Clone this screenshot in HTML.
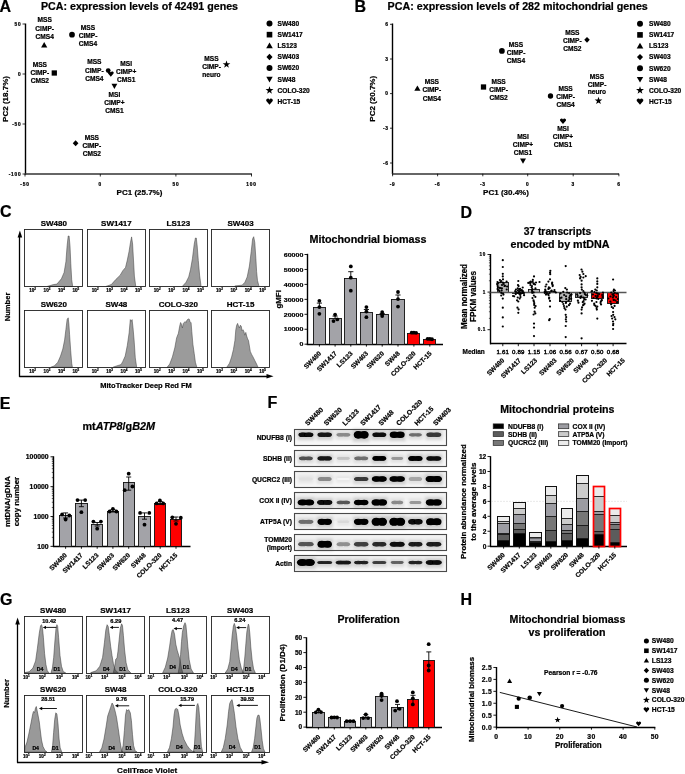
<!DOCTYPE html>
<html><head><meta charset="utf-8"><style>
html,body{margin:0;padding:0;background:#fff;width:685px;height:774px;overflow:hidden}
svg{display:block;will-change:transform}
text{font-family:"Liberation Sans", sans-serif;stroke:#000;stroke-width:0.22px}
</style></head><body>
<svg width="685" height="774" viewBox="0 0 685 774">
<rect x="0" y="0" width="685" height="774" fill="#fff"/>
<text x="-0.60" y="12.00" font-size="16" text-anchor="start" font-weight="bold" fill="#000"  style="">A</text>
<text x="41.00" y="10.04" font-size="10.4" text-anchor="start" font-weight="bold" fill="#000" textLength="197" lengthAdjust="spacingAndGlyphs" style="">PCA: expression levels of 42491 genes</text>
<line x1="25.50" y1="23.50" x2="25.50" y2="174.50" stroke="#000" stroke-width="1.4" />
<line x1="24.80" y1="174.00" x2="252.00" y2="174.00" stroke="#333" stroke-width="1.7" />
<line x1="22.50" y1="24.00" x2="25.00" y2="24.00" stroke="#000" stroke-width="0.8" />
<text x="21.50" y="25.73" font-size="4.8" text-anchor="end" font-weight="bold" fill="#000" letter-spacing="0.8" style="">50</text>
<line x1="22.50" y1="74.00" x2="25.00" y2="74.00" stroke="#000" stroke-width="0.8" />
<text x="21.50" y="75.73" font-size="4.8" text-anchor="end" font-weight="bold" fill="#000" letter-spacing="0.8" style="">0</text>
<line x1="22.50" y1="124.00" x2="25.00" y2="124.00" stroke="#000" stroke-width="0.8" />
<text x="21.50" y="125.73" font-size="4.8" text-anchor="end" font-weight="bold" fill="#000" letter-spacing="0.8" style="">-50</text>
<line x1="22.50" y1="174.00" x2="25.00" y2="174.00" stroke="#000" stroke-width="0.8" />
<text x="21.50" y="175.73" font-size="4.8" text-anchor="end" font-weight="bold" fill="#000" letter-spacing="0.8" style="">-100</text>
<line x1="25.00" y1="174.00" x2="25.00" y2="176.50" stroke="#000" stroke-width="0.8" />
<text x="25.00" y="185.73" font-size="4.8" text-anchor="middle" font-weight="bold" fill="#000" letter-spacing="0.8" style="">-50</text>
<line x1="100.30" y1="174.00" x2="100.30" y2="176.50" stroke="#000" stroke-width="0.8" />
<text x="100.30" y="185.73" font-size="4.8" text-anchor="middle" font-weight="bold" fill="#000" letter-spacing="0.8" style="">0</text>
<line x1="175.90" y1="174.00" x2="175.90" y2="176.50" stroke="#000" stroke-width="0.8" />
<text x="175.90" y="185.73" font-size="4.8" text-anchor="middle" font-weight="bold" fill="#000" letter-spacing="0.8" style="">50</text>
<line x1="251.50" y1="174.00" x2="251.50" y2="176.50" stroke="#000" stroke-width="0.8" />
<text x="251.50" y="185.73" font-size="4.8" text-anchor="middle" font-weight="bold" fill="#000" letter-spacing="0.8" style="">100</text>
<text x="139.50" y="195.38" font-size="8" text-anchor="middle" font-weight="bold" fill="#000"  style="">PC1 (25.7%)</text>
<text x="0" y="0" font-size="8" font-weight="bold" text-anchor="middle" transform="translate(7.5 99) rotate(-90)">PC2 (18.7%)</text>
<polygon points="44.20,42.10 47.30,47.53 41.10,47.53" fill="#000"/>
<text x="44.70" y="22.28" font-size="6.6" text-anchor="middle" font-weight="bold" fill="#000"  style="">MSS</text>
<text x="44.70" y="30.68" font-size="6.6" text-anchor="middle" font-weight="bold" fill="#000"  style="">CIMP-</text>
<text x="44.70" y="39.08" font-size="6.6" text-anchor="middle" font-weight="bold" fill="#000"  style="">CMS4</text>
<circle cx="72.00" cy="34.70" r="2.85" fill="#000" />
<text x="88.00" y="29.68" font-size="6.6" text-anchor="middle" font-weight="bold" fill="#000"  style="">MSS</text>
<text x="88.00" y="37.88" font-size="6.6" text-anchor="middle" font-weight="bold" fill="#000"  style="">CIMP-</text>
<text x="88.00" y="46.38" font-size="6.6" text-anchor="middle" font-weight="bold" fill="#000"  style="">CMS4</text>
<rect x="51.66" y="70.36" width="5.27" height="5.27" fill="#000" stroke="none" stroke-width="1" />
<text x="39.80" y="67.28" font-size="6.6" text-anchor="middle" font-weight="bold" fill="#000"  style="">MSS</text>
<text x="39.80" y="75.38" font-size="6.6" text-anchor="middle" font-weight="bold" fill="#000"  style="">CIMP-</text>
<text x="39.80" y="83.18" font-size="6.6" text-anchor="middle" font-weight="bold" fill="#000"  style="">CMS2</text>
<circle cx="108.20" cy="70.60" r="2.38" fill="#000" />
<path d="M110.80,76.75 L108.05,73.59 A1.43,1.43 0 0 1 110.80,72.35 A1.43,1.43 0 0 1 113.55,73.59 Z" fill="#000"/>
<text x="94.30" y="63.88" font-size="6.6" text-anchor="middle" font-weight="bold" fill="#000"  style="">MSS</text>
<text x="94.30" y="72.58" font-size="6.6" text-anchor="middle" font-weight="bold" fill="#000"  style="">CIMP-</text>
<text x="94.30" y="80.78" font-size="6.6" text-anchor="middle" font-weight="bold" fill="#000"  style="">CMS4</text>
<text x="126.20" y="66.18" font-size="6.6" text-anchor="middle" font-weight="bold" fill="#000"  style="">MSI</text>
<text x="126.20" y="74.38" font-size="6.6" text-anchor="middle" font-weight="bold" fill="#000"  style="">CIMP+</text>
<text x="126.20" y="82.18" font-size="6.6" text-anchor="middle" font-weight="bold" fill="#000"  style="">CMS1</text>
<polygon points="114.40,88.90 117.30,83.83 111.50,83.83" fill="#000"/>
<text x="114.40" y="97.18" font-size="6.6" text-anchor="middle" font-weight="bold" fill="#000"  style="">MSI</text>
<text x="114.40" y="105.18" font-size="6.6" text-anchor="middle" font-weight="bold" fill="#000"  style="">CIMP+</text>
<text x="114.40" y="113.18" font-size="6.6" text-anchor="middle" font-weight="bold" fill="#000"  style="">CMS1</text>
<polygon points="75.60,140.30 78.45,143.30 75.60,146.30 72.75,143.30" fill="#000"/>
<text x="91.80" y="140.18" font-size="6.6" text-anchor="middle" font-weight="bold" fill="#000"  style="">MSS</text>
<text x="91.80" y="147.88" font-size="6.6" text-anchor="middle" font-weight="bold" fill="#000"  style="">CIMP-</text>
<text x="91.80" y="155.58" font-size="6.6" text-anchor="middle" font-weight="bold" fill="#000"  style="">CMS2</text>
<polygon points="226.50,60.48 227.43,63.23 230.33,63.26 228.00,64.99 228.87,67.76 226.50,66.08 224.13,67.76 225.00,64.99 222.67,63.26 225.57,63.23" fill="#000"/>
<text x="211.50" y="60.88" font-size="6.6" text-anchor="middle" font-weight="bold" fill="#000"  style="">MSS</text>
<text x="211.50" y="69.18" font-size="6.6" text-anchor="middle" font-weight="bold" fill="#000"  style="">CIMP-</text>
<text x="211.50" y="77.28" font-size="6.6" text-anchor="middle" font-weight="bold" fill="#000"  style="">neuro</text>
<circle cx="269.50" cy="23.50" r="2.99" fill="#000" />
<text x="277.50" y="25.88" font-size="6.6" text-anchor="start" font-weight="bold" fill="#000"  style="">SW480</text>
<rect x="266.69" y="31.84" width="5.61" height="5.61" fill="#000" stroke="none" stroke-width="1" />
<text x="277.50" y="37.03" font-size="6.6" text-anchor="start" font-weight="bold" fill="#000"  style="">SW1417</text>
<polygon points="269.50,42.50 272.80,48.27 266.20,48.27" fill="#000"/>
<text x="277.50" y="48.18" font-size="6.6" text-anchor="start" font-weight="bold" fill="#000"  style="">LS123</text>
<polygon points="269.50,53.75 272.54,56.95 269.50,60.15 266.46,56.95" fill="#000"/>
<text x="277.50" y="59.33" font-size="6.6" text-anchor="start" font-weight="bold" fill="#000"  style="">SW403</text>
<circle cx="269.50" cy="68.10" r="2.99" fill="#000" />
<text x="277.50" y="70.48" font-size="6.6" text-anchor="start" font-weight="bold" fill="#000"  style="">SW620</text>
<polygon points="269.50,82.45 272.70,76.85 266.30,76.85" fill="#000"/>
<text x="277.50" y="81.63" font-size="6.6" text-anchor="start" font-weight="bold" fill="#000"  style="">SW48</text>
<polygon points="269.50,86.26 270.45,89.09 273.44,89.12 271.04,90.90 271.93,93.75 269.50,92.02 267.07,93.75 267.96,90.90 265.56,89.12 268.55,89.09" fill="#000"/>
<text x="277.50" y="92.78" font-size="6.6" text-anchor="start" font-weight="bold" fill="#000"  style="">COLO-320</text>
<path d="M269.50,104.75 L266.30,101.07 A1.66,1.66 0 0 1 269.50,99.63 A1.66,1.66 0 0 1 272.70,101.07 Z" fill="#000"/>
<text x="277.50" y="103.93" font-size="6.6" text-anchor="start" font-weight="bold" fill="#000"  style="">HCT-15</text>
<text x="354.60" y="11.70" font-size="16" text-anchor="start" font-weight="bold" fill="#000"  style="">B</text>
<text x="387.60" y="10.04" font-size="10.4" text-anchor="start" font-weight="bold" fill="#000" textLength="260.2" lengthAdjust="spacingAndGlyphs" style="">PCA: expression levels of 282 mitochondrial genes</text>
<line x1="392.50" y1="23.50" x2="392.50" y2="174.00" stroke="#000" stroke-width="1.4" />
<line x1="392.00" y1="174.00" x2="619.00" y2="174.00" stroke="#333" stroke-width="1.7" />
<line x1="390.00" y1="24.30" x2="392.60" y2="24.30" stroke="#000" stroke-width="0.8" />
<text x="388.50" y="26.03" font-size="4.8" text-anchor="end" font-weight="bold" fill="#000" letter-spacing="0.6" style="">6</text>
<line x1="390.00" y1="59.00" x2="392.60" y2="59.00" stroke="#000" stroke-width="0.8" />
<text x="388.50" y="60.73" font-size="4.8" text-anchor="end" font-weight="bold" fill="#000" letter-spacing="0.6" style="">3</text>
<line x1="390.00" y1="93.60" x2="392.60" y2="93.60" stroke="#000" stroke-width="0.8" />
<text x="388.50" y="95.33" font-size="4.8" text-anchor="end" font-weight="bold" fill="#000" letter-spacing="0.6" style="">0</text>
<line x1="390.00" y1="128.20" x2="392.60" y2="128.20" stroke="#000" stroke-width="0.8" />
<text x="388.50" y="129.93" font-size="4.8" text-anchor="end" font-weight="bold" fill="#000" letter-spacing="0.6" style="">-3</text>
<line x1="390.00" y1="163.00" x2="392.60" y2="163.00" stroke="#000" stroke-width="0.8" />
<text x="388.50" y="164.73" font-size="4.8" text-anchor="end" font-weight="bold" fill="#000" letter-spacing="0.6" style="">-6</text>
<line x1="392.60" y1="173.70" x2="392.60" y2="176.30" stroke="#000" stroke-width="0.8" />
<text x="392.60" y="185.93" font-size="4.8" text-anchor="middle" font-weight="bold" fill="#000" letter-spacing="0.6" style="">-9</text>
<line x1="437.60" y1="173.70" x2="437.60" y2="176.30" stroke="#000" stroke-width="0.8" />
<text x="437.60" y="185.93" font-size="4.8" text-anchor="middle" font-weight="bold" fill="#000" letter-spacing="0.6" style="">-6</text>
<line x1="482.80" y1="173.70" x2="482.80" y2="176.30" stroke="#000" stroke-width="0.8" />
<text x="482.80" y="185.93" font-size="4.8" text-anchor="middle" font-weight="bold" fill="#000" letter-spacing="0.6" style="">-3</text>
<line x1="527.70" y1="173.70" x2="527.70" y2="176.30" stroke="#000" stroke-width="0.8" />
<text x="527.70" y="185.93" font-size="4.8" text-anchor="middle" font-weight="bold" fill="#000" letter-spacing="0.6" style="">0</text>
<line x1="573.20" y1="173.70" x2="573.20" y2="176.30" stroke="#000" stroke-width="0.8" />
<text x="573.20" y="185.93" font-size="4.8" text-anchor="middle" font-weight="bold" fill="#000" letter-spacing="0.6" style="">3</text>
<line x1="618.90" y1="173.70" x2="618.90" y2="176.30" stroke="#000" stroke-width="0.8" />
<text x="618.90" y="185.93" font-size="4.8" text-anchor="middle" font-weight="bold" fill="#000" letter-spacing="0.6" style="">6</text>
<text x="506.00" y="195.18" font-size="8" text-anchor="middle" font-weight="bold" fill="#000"  style="">PC1 (30.4%)</text>
<text x="0" y="0" font-size="8" font-weight="bold" text-anchor="middle" transform="translate(374.5 98.8) rotate(-90)">PC2 (20.7%)</text>
<polygon points="417.40,85.40 420.50,90.83 414.30,90.83" fill="#000"/>
<text x="431.80" y="83.78" font-size="6.6" text-anchor="middle" font-weight="bold" fill="#000"  style="">MSS</text>
<text x="431.80" y="92.38" font-size="6.6" text-anchor="middle" font-weight="bold" fill="#000"  style="">CIMP-</text>
<text x="431.80" y="100.58" font-size="6.6" text-anchor="middle" font-weight="bold" fill="#000"  style="">CMS4</text>
<circle cx="501.90" cy="50.90" r="2.85" fill="#000" />
<text x="516.00" y="46.78" font-size="6.6" text-anchor="middle" font-weight="bold" fill="#000"  style="">MSS</text>
<text x="516.00" y="54.98" font-size="6.6" text-anchor="middle" font-weight="bold" fill="#000"  style="">CIMP-</text>
<text x="516.00" y="62.78" font-size="6.6" text-anchor="middle" font-weight="bold" fill="#000"  style="">CMS4</text>
<rect x="480.87" y="84.36" width="5.27" height="5.27" fill="#000" stroke="none" stroke-width="1" />
<text x="498.60" y="83.58" font-size="6.6" text-anchor="middle" font-weight="bold" fill="#000"  style="">MSS</text>
<text x="498.60" y="91.68" font-size="6.6" text-anchor="middle" font-weight="bold" fill="#000"  style="">CIMP-</text>
<text x="498.60" y="99.58" font-size="6.6" text-anchor="middle" font-weight="bold" fill="#000"  style="">CMS2</text>
<polygon points="587.00,36.90 589.75,39.80 587.00,42.70 584.25,39.80" fill="#000"/>
<text x="572.30" y="34.68" font-size="6.6" text-anchor="middle" font-weight="bold" fill="#000"  style="">MSS</text>
<text x="572.30" y="43.18" font-size="6.6" text-anchor="middle" font-weight="bold" fill="#000"  style="">CIMP-</text>
<text x="572.30" y="51.18" font-size="6.6" text-anchor="middle" font-weight="bold" fill="#000"  style="">CMS2</text>
<circle cx="550.50" cy="96.00" r="2.66" fill="#000" />
<text x="565.60" y="91.18" font-size="6.6" text-anchor="middle" font-weight="bold" fill="#000"  style="">MSS</text>
<text x="565.60" y="99.18" font-size="6.6" text-anchor="middle" font-weight="bold" fill="#000"  style="">CIMP-</text>
<text x="565.60" y="107.28" font-size="6.6" text-anchor="middle" font-weight="bold" fill="#000"  style="">CMS4</text>
<path d="M563.00,124.10 L560.10,120.77 A1.51,1.51 0 0 1 563.00,119.46 A1.51,1.51 0 0 1 565.90,120.77 Z" fill="#000"/>
<text x="563.00" y="130.78" font-size="6.6" text-anchor="middle" font-weight="bold" fill="#000"  style="">MSI</text>
<text x="563.00" y="138.78" font-size="6.6" text-anchor="middle" font-weight="bold" fill="#000"  style="">CIMP+</text>
<text x="563.00" y="146.78" font-size="6.6" text-anchor="middle" font-weight="bold" fill="#000"  style="">CMS1</text>
<polygon points="523.00,163.70 526.00,158.45 520.00,158.45" fill="#000"/>
<text x="523.00" y="138.68" font-size="6.6" text-anchor="middle" font-weight="bold" fill="#000"  style="">MSI</text>
<text x="523.00" y="147.38" font-size="6.6" text-anchor="middle" font-weight="bold" fill="#000"  style="">CIMP+</text>
<text x="523.00" y="155.38" font-size="6.6" text-anchor="middle" font-weight="bold" fill="#000"  style="">CMS1</text>
<polygon points="598.50,96.77 599.43,99.53 602.33,99.56 600.00,101.29 600.87,104.06 598.50,102.38 596.13,104.06 597.00,101.29 594.67,99.56 597.57,99.53" fill="#000"/>
<text x="597.00" y="78.58" font-size="6.6" text-anchor="middle" font-weight="bold" fill="#000"  style="">MSS</text>
<text x="597.00" y="86.58" font-size="6.6" text-anchor="middle" font-weight="bold" fill="#000"  style="">CIMP-</text>
<text x="597.00" y="94.38" font-size="6.6" text-anchor="middle" font-weight="bold" fill="#000"  style="">neuro</text>
<circle cx="640.00" cy="23.80" r="2.99" fill="#000" />
<text x="649.00" y="26.18" font-size="6.6" text-anchor="start" font-weight="bold" fill="#000"  style="">SW480</text>
<rect x="637.20" y="32.09" width="5.61" height="5.61" fill="#000" stroke="none" stroke-width="1" />
<text x="649.00" y="37.28" font-size="6.6" text-anchor="start" font-weight="bold" fill="#000"  style="">SW1417</text>
<polygon points="640.00,42.70 643.30,48.48 636.70,48.48" fill="#000"/>
<text x="649.00" y="48.38" font-size="6.6" text-anchor="start" font-weight="bold" fill="#000"  style="">LS123</text>
<polygon points="640.00,53.90 643.04,57.10 640.00,60.30 636.96,57.10" fill="#000"/>
<text x="649.00" y="59.48" font-size="6.6" text-anchor="start" font-weight="bold" fill="#000"  style="">SW403</text>
<circle cx="640.00" cy="68.20" r="2.99" fill="#000" />
<text x="649.00" y="70.58" font-size="6.6" text-anchor="start" font-weight="bold" fill="#000"  style="">SW620</text>
<polygon points="640.00,82.50 643.20,76.90 636.80,76.90" fill="#000"/>
<text x="649.00" y="81.68" font-size="6.6" text-anchor="start" font-weight="bold" fill="#000"  style="">SW48</text>
<polygon points="640.00,86.26 640.95,89.09 643.94,89.12 641.54,90.90 642.43,93.75 640.00,92.02 637.57,93.75 638.46,90.90 636.06,89.12 639.05,89.09" fill="#000"/>
<text x="649.00" y="92.78" font-size="6.6" text-anchor="start" font-weight="bold" fill="#000"  style="">COLO-320</text>
<path d="M640.00,104.70 L636.80,101.02 A1.66,1.66 0 0 1 640.00,99.58 A1.66,1.66 0 0 1 643.20,101.02 Z" fill="#000"/>
<text x="649.00" y="103.88" font-size="6.6" text-anchor="start" font-weight="bold" fill="#000"  style="">HCT-15</text>
<text x="0.00" y="217.20" font-size="16" text-anchor="start" font-weight="bold" fill="#000"  style="">C</text>
<path d="M47.20,286.50 L47.20,286.40 L53.40,284.60 L56.90,284.10 L61.40,278.80 L64.10,272.50 L65.90,261.80 L67.10,245.80 L68.20,236.00 L69.10,236.00 L70.00,245.80 L70.80,263.60 L71.70,279.60 L72.60,285.90 L72.60,286.50 Z" fill="#9b9b9b" stroke="#3a3a3a" stroke-width="0.5" stroke-linejoin="round" />
<rect x="24.50" y="229.50" width="58.00" height="57.00" fill="none" stroke="#222" stroke-width="0.9" />
<text x="53.80" y="226.28" font-size="8.0" text-anchor="middle" font-weight="bold" fill="#000"  style="">SW480</text>
<text x="32.60" y="292.06" font-size="4.6" font-weight="bold" text-anchor="middle">10<tspan font-size="2.99" dy="-1.84">2</tspan></text>
<text x="47.00" y="292.06" font-size="4.6" font-weight="bold" text-anchor="middle">10<tspan font-size="2.99" dy="-1.84">3</tspan></text>
<text x="61.40" y="292.06" font-size="4.6" font-weight="bold" text-anchor="middle">10<tspan font-size="2.99" dy="-1.84">4</tspan></text>
<text x="75.80" y="292.06" font-size="4.6" font-weight="bold" text-anchor="middle">10<tspan font-size="2.99" dy="-1.84">5</tspan></text>
<path d="M105.90,286.50 L105.90,286.40 L111.30,284.60 L115.70,279.60 L120.20,275.20 L122.80,270.70 L125.50,267.50 L127.30,260.10 L129.10,251.20 L130.50,242.20 L131.60,236.90 L132.60,244.00 L133.50,260.10 L134.40,276.10 L135.70,285.90 L135.70,286.50 Z" fill="#9b9b9b" stroke="#3a3a3a" stroke-width="0.5" stroke-linejoin="round" />
<rect x="87.50" y="229.50" width="58.00" height="57.00" fill="none" stroke="#222" stroke-width="0.9" />
<text x="116.40" y="226.28" font-size="8.0" text-anchor="middle" font-weight="bold" fill="#000"  style="">SW1417</text>
<text x="95.20" y="292.06" font-size="4.6" font-weight="bold" text-anchor="middle">10<tspan font-size="2.99" dy="-1.84">2</tspan></text>
<text x="109.60" y="292.06" font-size="4.6" font-weight="bold" text-anchor="middle">10<tspan font-size="2.99" dy="-1.84">3</tspan></text>
<text x="124.00" y="292.06" font-size="4.6" font-weight="bold" text-anchor="middle">10<tspan font-size="2.99" dy="-1.84">4</tspan></text>
<text x="138.40" y="292.06" font-size="4.6" font-weight="bold" text-anchor="middle">10<tspan font-size="2.99" dy="-1.84">5</tspan></text>
<path d="M182.40,286.50 L182.40,286.30 L186.00,282.30 L188.70,276.90 L190.50,269.60 L192.40,258.80 L194.20,244.30 L195.40,238.00 L196.30,238.00 L197.20,246.10 L198.30,260.60 L199.60,275.10 L200.90,285.00 L200.90,286.50 Z" fill="#9b9b9b" stroke="#3a3a3a" stroke-width="0.5" stroke-linejoin="round" />
<rect x="149.50" y="229.50" width="58.00" height="57.00" fill="none" stroke="#222" stroke-width="0.9" />
<text x="178.40" y="226.28" font-size="8.0" text-anchor="middle" font-weight="bold" fill="#000"  style="">LS123</text>
<text x="157.20" y="292.06" font-size="4.6" font-weight="bold" text-anchor="middle">10<tspan font-size="2.99" dy="-1.84">2</tspan></text>
<text x="171.60" y="292.06" font-size="4.6" font-weight="bold" text-anchor="middle">10<tspan font-size="2.99" dy="-1.84">3</tspan></text>
<text x="186.00" y="292.06" font-size="4.6" font-weight="bold" text-anchor="middle">10<tspan font-size="2.99" dy="-1.84">4</tspan></text>
<text x="200.40" y="292.06" font-size="4.6" font-weight="bold" text-anchor="middle">10<tspan font-size="2.99" dy="-1.84">5</tspan></text>
<path d="M234.90,286.50 L234.90,285.90 L242.10,285.20 L244.90,282.30 L247.20,276.90 L249.40,266.00 L251.20,251.50 L252.60,238.90 L253.70,236.70 L254.80,242.50 L255.90,258.80 L256.60,271.40 L257.50,280.50 L258.80,285.60 L258.80,286.50 Z" fill="#9b9b9b" stroke="#3a3a3a" stroke-width="0.5" stroke-linejoin="round" />
<rect x="211.50" y="229.50" width="58.00" height="57.00" fill="none" stroke="#222" stroke-width="0.9" />
<text x="240.60" y="226.28" font-size="8.0" text-anchor="middle" font-weight="bold" fill="#000"  style="">SW403</text>
<text x="219.40" y="292.06" font-size="4.6" font-weight="bold" text-anchor="middle">10<tspan font-size="2.99" dy="-1.84">2</tspan></text>
<text x="233.80" y="292.06" font-size="4.6" font-weight="bold" text-anchor="middle">10<tspan font-size="2.99" dy="-1.84">3</tspan></text>
<text x="248.20" y="292.06" font-size="4.6" font-weight="bold" text-anchor="middle">10<tspan font-size="2.99" dy="-1.84">4</tspan></text>
<text x="262.60" y="292.06" font-size="4.6" font-weight="bold" text-anchor="middle">10<tspan font-size="2.99" dy="-1.84">5</tspan></text>
<path d="M50.70,367.30 L50.70,367.30 L54.30,365.90 L57.80,362.30 L60.50,356.10 L62.80,349.00 L64.60,340.10 L65.90,329.40 L67.10,319.60 L68.20,317.80 L68.90,324.00 L69.60,334.70 L70.70,350.70 L71.70,363.20 L72.40,367.30 L72.40,367.30 Z" fill="#9b9b9b" stroke="#3a3a3a" stroke-width="0.5" stroke-linejoin="round" />
<rect x="24.50" y="310.50" width="58.00" height="57.00" fill="none" stroke="#222" stroke-width="0.9" />
<text x="53.80" y="307.38" font-size="8.0" text-anchor="middle" font-weight="bold" fill="#000"  style="">SW620</text>
<text x="32.60" y="372.86" font-size="4.6" font-weight="bold" text-anchor="middle">10<tspan font-size="2.99" dy="-1.84">2</tspan></text>
<text x="47.00" y="372.86" font-size="4.6" font-weight="bold" text-anchor="middle">10<tspan font-size="2.99" dy="-1.84">3</tspan></text>
<text x="61.40" y="372.86" font-size="4.6" font-weight="bold" text-anchor="middle">10<tspan font-size="2.99" dy="-1.84">4</tspan></text>
<text x="75.80" y="372.86" font-size="4.6" font-weight="bold" text-anchor="middle">10<tspan font-size="2.99" dy="-1.84">5</tspan></text>
<path d="M113.00,367.30 L113.00,367.30 L116.60,365.90 L121.10,364.60 L122.80,361.40 L125.20,356.10 L127.30,345.40 L129.10,332.90 L130.30,319.60 L131.20,321.40 L132.10,319.60 L133.00,327.60 L134.10,340.10 L135.30,357.90 L136.60,366.80 L136.60,367.30 Z" fill="#9b9b9b" stroke="#3a3a3a" stroke-width="0.5" stroke-linejoin="round" />
<rect x="87.50" y="310.50" width="58.00" height="57.00" fill="none" stroke="#222" stroke-width="0.9" />
<text x="116.40" y="307.38" font-size="8.0" text-anchor="middle" font-weight="bold" fill="#000"  style="">SW48</text>
<text x="95.20" y="372.86" font-size="4.6" font-weight="bold" text-anchor="middle">10<tspan font-size="2.99" dy="-1.84">2</tspan></text>
<text x="109.60" y="372.86" font-size="4.6" font-weight="bold" text-anchor="middle">10<tspan font-size="2.99" dy="-1.84">3</tspan></text>
<text x="124.00" y="372.86" font-size="4.6" font-weight="bold" text-anchor="middle">10<tspan font-size="2.99" dy="-1.84">4</tspan></text>
<text x="138.40" y="372.86" font-size="4.6" font-weight="bold" text-anchor="middle">10<tspan font-size="2.99" dy="-1.84">5</tspan></text>
<path d="M167.00,367.30 L167.00,367.40 L169.70,364.10 L172.40,356.90 L174.80,347.80 L176.60,337.90 L178.40,333.30 L179.70,326.10 L180.60,322.50 L181.50,324.30 L182.40,327.90 L183.30,323.40 L184.20,322.50 L185.10,321.60 L186.00,322.50 L186.90,320.30 L188.20,318.90 L189.30,319.20 L190.00,321.60 L191.10,322.80 L191.80,331.50 L192.90,344.20 L194.20,353.30 L195.40,362.30 L196.90,367.40 L196.90,367.30 Z" fill="#9b9b9b" stroke="#3a3a3a" stroke-width="0.5" stroke-linejoin="round" />
<rect x="149.50" y="310.50" width="58.00" height="57.00" fill="none" stroke="#222" stroke-width="0.9" />
<text x="178.40" y="307.38" font-size="8.0" text-anchor="middle" font-weight="bold" fill="#000"  style="">COLO-320</text>
<text x="157.20" y="372.86" font-size="4.6" font-weight="bold" text-anchor="middle">10<tspan font-size="2.99" dy="-1.84">2</tspan></text>
<text x="171.60" y="372.86" font-size="4.6" font-weight="bold" text-anchor="middle">10<tspan font-size="2.99" dy="-1.84">3</tspan></text>
<text x="186.00" y="372.86" font-size="4.6" font-weight="bold" text-anchor="middle">10<tspan font-size="2.99" dy="-1.84">4</tspan></text>
<text x="200.40" y="372.86" font-size="4.6" font-weight="bold" text-anchor="middle">10<tspan font-size="2.99" dy="-1.84">5</tspan></text>
<path d="M226.70,367.30 L226.70,367.40 L229.50,363.20 L231.60,356.90 L233.40,349.60 L234.90,340.60 L235.80,329.70 L236.70,325.20 L237.60,323.40 L238.50,326.10 L239.40,327.90 L240.30,325.20 L241.20,326.10 L242.10,330.60 L243.00,329.70 L243.90,331.50 L244.80,335.20 L245.80,332.40 L246.70,336.10 L247.60,338.80 L248.50,340.60 L249.40,346.00 L250.30,351.40 L251.50,354.20 L253.00,356.90 L254.80,360.50 L256.60,364.10 L258.10,367.40 L258.10,367.30 Z" fill="#9b9b9b" stroke="#3a3a3a" stroke-width="0.5" stroke-linejoin="round" />
<rect x="211.50" y="310.50" width="58.00" height="57.00" fill="none" stroke="#222" stroke-width="0.9" />
<text x="240.60" y="307.38" font-size="8.0" text-anchor="middle" font-weight="bold" fill="#000"  style="">HCT-15</text>
<text x="219.40" y="372.86" font-size="4.6" font-weight="bold" text-anchor="middle">10<tspan font-size="2.99" dy="-1.84">2</tspan></text>
<text x="233.80" y="372.86" font-size="4.6" font-weight="bold" text-anchor="middle">10<tspan font-size="2.99" dy="-1.84">3</tspan></text>
<text x="248.20" y="372.86" font-size="4.6" font-weight="bold" text-anchor="middle">10<tspan font-size="2.99" dy="-1.84">4</tspan></text>
<text x="262.60" y="372.86" font-size="4.6" font-weight="bold" text-anchor="middle">10<tspan font-size="2.99" dy="-1.84">5</tspan></text>
<line x1="19.50" y1="236.00" x2="19.50" y2="376.90" stroke="#000" stroke-width="1.3" />
<polygon points="19.9,230.5 17.6,237.5 22.2,237.5" fill="#000"/>
<line x1="19.30" y1="376.50" x2="267.00" y2="376.50" stroke="#000" stroke-width="1.3" />
<polygon points="273.5,376.3 266.5,374 266.5,378.6" fill="#000"/>
<text x="0" y="0" font-size="7.6" font-weight="bold" text-anchor="middle" transform="translate(10.3 307) rotate(-90)">Number</text>
<text x="100.30" y="387.94" font-size="7.6" text-anchor="start" font-weight="bold" fill="#000" textLength="91.5" lengthAdjust="spacingAndGlyphs" style="">MitoTracker Deep Red FM</text>
<text x="309.50" y="242.88" font-size="10.5" text-anchor="start" font-weight="bold" fill="#000" textLength="117" lengthAdjust="spacingAndGlyphs" style="">Mitochondrial biomass</text>
<line x1="307.50" y1="253.80" x2="307.50" y2="344.70" stroke="#000" stroke-width="1.4" />
<line x1="306.70" y1="344.50" x2="443.00" y2="344.50" stroke="#000" stroke-width="1.4" />
<line x1="304.50" y1="344.20" x2="307.20" y2="344.20" stroke="#000" stroke-width="0.9" />
<text x="303.30" y="346.43" font-size="6.2" text-anchor="end" font-weight="bold" fill="#000" textLength="3.9" lengthAdjust="spacingAndGlyphs" style="">0</text>
<line x1="304.50" y1="329.25" x2="307.20" y2="329.25" stroke="#000" stroke-width="0.9" />
<text x="303.30" y="331.48" font-size="6.2" text-anchor="end" font-weight="bold" fill="#000" textLength="19.5" lengthAdjust="spacingAndGlyphs" style="">10000</text>
<line x1="304.50" y1="314.30" x2="307.20" y2="314.30" stroke="#000" stroke-width="0.9" />
<text x="303.30" y="316.53" font-size="6.2" text-anchor="end" font-weight="bold" fill="#000" textLength="19.5" lengthAdjust="spacingAndGlyphs" style="">20000</text>
<line x1="304.50" y1="299.35" x2="307.20" y2="299.35" stroke="#000" stroke-width="0.9" />
<text x="303.30" y="301.58" font-size="6.2" text-anchor="end" font-weight="bold" fill="#000" textLength="19.5" lengthAdjust="spacingAndGlyphs" style="">30000</text>
<line x1="304.50" y1="284.40" x2="307.20" y2="284.40" stroke="#000" stroke-width="0.9" />
<text x="303.30" y="286.63" font-size="6.2" text-anchor="end" font-weight="bold" fill="#000" textLength="19.5" lengthAdjust="spacingAndGlyphs" style="">40000</text>
<line x1="304.50" y1="269.45" x2="307.20" y2="269.45" stroke="#000" stroke-width="0.9" />
<text x="303.30" y="271.68" font-size="6.2" text-anchor="end" font-weight="bold" fill="#000" textLength="19.5" lengthAdjust="spacingAndGlyphs" style="">50000</text>
<line x1="304.50" y1="254.50" x2="307.20" y2="254.50" stroke="#000" stroke-width="0.9" />
<text x="303.30" y="256.73" font-size="6.2" text-anchor="end" font-weight="bold" fill="#000" textLength="19.5" lengthAdjust="spacingAndGlyphs" style="">60000</text>
<text x="0" y="0" font-size="7.8" font-weight="bold" text-anchor="middle" transform="translate(281.3 299.3) rotate(-90)">gMFI</text>
<rect x="313.50" y="307.50" width="12.00" height="37.00" fill="#a3a3a8" stroke="#111" stroke-width="0.9" />
<line x1="319.40" y1="303.09" x2="319.40" y2="307.12" stroke="#000" stroke-width="0.9" />
<line x1="316.80" y1="303.09" x2="322.00" y2="303.09" stroke="#000" stroke-width="0.9" />
<circle cx="319.40" cy="300.84" r="1.90" fill="#000" />
<circle cx="319.40" cy="307.12" r="1.90" fill="#000" />
<circle cx="319.40" cy="313.85" r="1.90" fill="#000" />
<line x1="319.40" y1="344.20" x2="319.40" y2="346.60" stroke="#000" stroke-width="0.9" />
<text x="321.70" y="354.00" font-size="6.6" text-anchor="end" font-weight="bold" transform="rotate(-45 321.70 354.00)" >SW480</text>
<rect x="329.50" y="318.50" width="12.00" height="26.00" fill="#a3a3a8" stroke="#111" stroke-width="0.9" />
<line x1="335.10" y1="316.09" x2="335.10" y2="318.78" stroke="#000" stroke-width="0.9" />
<line x1="332.50" y1="316.09" x2="337.70" y2="316.09" stroke="#000" stroke-width="0.9" />
<circle cx="335.10" cy="314.60" r="1.90" fill="#000" />
<circle cx="333.50" cy="321.03" r="1.90" fill="#000" />
<circle cx="337.30" cy="319.38" r="1.90" fill="#000" />
<line x1="335.10" y1="344.20" x2="335.10" y2="346.60" stroke="#000" stroke-width="0.9" />
<text x="337.40" y="354.00" font-size="6.6" text-anchor="end" font-weight="bold" transform="rotate(-45 337.40 354.00)" >SW1417</text>
<rect x="344.50" y="278.50" width="12.00" height="66.00" fill="#a3a3a8" stroke="#111" stroke-width="0.9" />
<line x1="350.80" y1="271.69" x2="350.80" y2="278.42" stroke="#000" stroke-width="0.9" />
<line x1="348.20" y1="271.69" x2="353.40" y2="271.69" stroke="#000" stroke-width="0.9" />
<circle cx="350.80" cy="266.46" r="1.90" fill="#000" />
<circle cx="350.80" cy="277.67" r="1.90" fill="#000" />
<circle cx="350.80" cy="290.68" r="1.90" fill="#000" />
<line x1="350.80" y1="344.20" x2="350.80" y2="346.60" stroke="#000" stroke-width="0.9" />
<text x="353.10" y="354.00" font-size="6.6" text-anchor="end" font-weight="bold" transform="rotate(-45 353.10 354.00)" >LS123</text>
<rect x="360.50" y="312.50" width="12.00" height="32.00" fill="#a3a3a8" stroke="#111" stroke-width="0.9" />
<line x1="366.40" y1="309.52" x2="366.40" y2="312.51" stroke="#000" stroke-width="0.9" />
<line x1="363.80" y1="309.52" x2="369.00" y2="309.52" stroke="#000" stroke-width="0.9" />
<circle cx="366.40" cy="307.12" r="1.90" fill="#000" />
<circle cx="366.40" cy="311.61" r="1.90" fill="#000" />
<circle cx="366.40" cy="317.14" r="1.90" fill="#000" />
<line x1="366.40" y1="344.20" x2="366.40" y2="346.60" stroke="#000" stroke-width="0.9" />
<text x="368.70" y="354.00" font-size="6.6" text-anchor="end" font-weight="bold" transform="rotate(-45 368.70 354.00)" >SW403</text>
<rect x="376.50" y="314.50" width="12.00" height="30.00" fill="#a3a3a8" stroke="#111" stroke-width="0.9" />
<line x1="382.20" y1="313.40" x2="382.20" y2="314.75" stroke="#000" stroke-width="0.9" />
<line x1="379.60" y1="313.40" x2="384.80" y2="313.40" stroke="#000" stroke-width="0.9" />
<circle cx="382.20" cy="312.06" r="1.90" fill="#000" />
<circle cx="382.20" cy="314.30" r="1.90" fill="#000" />
<circle cx="382.20" cy="316.09" r="1.90" fill="#000" />
<line x1="382.20" y1="344.20" x2="382.20" y2="346.60" stroke="#000" stroke-width="0.9" />
<text x="384.50" y="354.00" font-size="6.6" text-anchor="end" font-weight="bold" transform="rotate(-45 384.50 354.00)" >SW620</text>
<rect x="391.50" y="299.50" width="13.00" height="45.00" fill="#a3a3a8" stroke="#111" stroke-width="0.9" />
<line x1="398.00" y1="295.01" x2="398.00" y2="299.35" stroke="#000" stroke-width="0.9" />
<line x1="395.40" y1="295.01" x2="400.60" y2="295.01" stroke="#000" stroke-width="0.9" />
<circle cx="398.00" cy="292.02" r="1.90" fill="#000" />
<circle cx="398.00" cy="299.05" r="1.90" fill="#000" />
<circle cx="398.00" cy="306.53" r="1.90" fill="#000" />
<line x1="398.00" y1="344.20" x2="398.00" y2="346.60" stroke="#000" stroke-width="0.9" />
<text x="400.30" y="354.00" font-size="6.6" text-anchor="end" font-weight="bold" transform="rotate(-45 400.30 354.00)" >SW48</text>
<rect x="407.50" y="333.50" width="12.00" height="11.00" fill="#ff0000" stroke="#111" stroke-width="0.9" />
<line x1="413.90" y1="332.69" x2="413.90" y2="333.14" stroke="#000" stroke-width="0.9" />
<line x1="411.30" y1="332.69" x2="416.50" y2="332.69" stroke="#000" stroke-width="0.9" />
<circle cx="413.90" cy="332.69" r="1.90" fill="#000" />
<circle cx="411.70" cy="332.69" r="1.90" fill="#000" />
<circle cx="416.10" cy="332.84" r="1.90" fill="#000" />
<line x1="413.90" y1="344.20" x2="413.90" y2="346.60" stroke="#000" stroke-width="0.9" />
<text x="416.20" y="354.00" font-size="6.6" text-anchor="end" font-weight="bold" transform="rotate(-45 416.20 354.00)" >COLO-320</text>
<rect x="423.50" y="339.50" width="12.00" height="5.00" fill="#ff0000" stroke="#111" stroke-width="0.9" />
<line x1="429.80" y1="339.27" x2="429.80" y2="339.71" stroke="#000" stroke-width="0.9" />
<line x1="427.20" y1="339.27" x2="432.40" y2="339.27" stroke="#000" stroke-width="0.9" />
<circle cx="429.80" cy="338.97" r="1.90" fill="#000" />
<circle cx="427.60" cy="338.82" r="1.90" fill="#000" />
<circle cx="432.00" cy="339.27" r="1.90" fill="#000" />
<line x1="429.80" y1="344.20" x2="429.80" y2="346.60" stroke="#000" stroke-width="0.9" />
<text x="432.10" y="354.00" font-size="6.6" text-anchor="end" font-weight="bold" transform="rotate(-45 432.10 354.00)" >HCT-15</text>
<text x="460.40" y="217.60" font-size="16" text-anchor="start" font-weight="bold" fill="#000"  style="">D</text>
<text x="557.40" y="234.61" font-size="10.3" text-anchor="middle" font-weight="bold" fill="#000"  style="">37 transcripts</text>
<text x="560.00" y="248.11" font-size="10.3" text-anchor="middle" font-weight="bold" fill="#000" textLength="99" lengthAdjust="spacingAndGlyphs" style="">encoded by mtDNA</text>
<line x1="490.50" y1="254.00" x2="490.50" y2="344.30" stroke="#000" stroke-width="1.4" />
<line x1="490.00" y1="343.50" x2="626.50" y2="343.50" stroke="#000" stroke-width="1.4" />
<line x1="487.50" y1="254.50" x2="490.50" y2="254.50" stroke="#000" stroke-width="0.9" />
<text x="485.90" y="256.16" font-size="4.6" text-anchor="end" font-weight="bold" fill="#000" letter-spacing="0.6" style="">10</text>
<line x1="487.50" y1="292.10" x2="490.50" y2="292.10" stroke="#000" stroke-width="0.9" />
<text x="485.90" y="293.76" font-size="4.6" text-anchor="end" font-weight="bold" fill="#000" letter-spacing="0.6" style="">1</text>
<line x1="487.50" y1="329.70" x2="490.50" y2="329.70" stroke="#000" stroke-width="0.9" />
<text x="485.90" y="331.36" font-size="4.6" text-anchor="end" font-weight="bold" fill="#000" letter-spacing="0.6" style="">0.1</text>
<line x1="488.90" y1="280.78" x2="490.50" y2="280.78" stroke="#000" stroke-width="0.6" />
<line x1="488.90" y1="274.16" x2="490.50" y2="274.16" stroke="#000" stroke-width="0.6" />
<line x1="488.90" y1="269.46" x2="490.50" y2="269.46" stroke="#000" stroke-width="0.6" />
<line x1="488.90" y1="265.82" x2="490.50" y2="265.82" stroke="#000" stroke-width="0.6" />
<line x1="488.90" y1="262.84" x2="490.50" y2="262.84" stroke="#000" stroke-width="0.6" />
<line x1="488.90" y1="260.32" x2="490.50" y2="260.32" stroke="#000" stroke-width="0.6" />
<line x1="488.90" y1="258.14" x2="490.50" y2="258.14" stroke="#000" stroke-width="0.6" />
<line x1="488.90" y1="256.22" x2="490.50" y2="256.22" stroke="#000" stroke-width="0.6" />
<line x1="488.90" y1="318.38" x2="490.50" y2="318.38" stroke="#000" stroke-width="0.6" />
<line x1="488.90" y1="311.76" x2="490.50" y2="311.76" stroke="#000" stroke-width="0.6" />
<line x1="488.90" y1="307.06" x2="490.50" y2="307.06" stroke="#000" stroke-width="0.6" />
<line x1="488.90" y1="303.42" x2="490.50" y2="303.42" stroke="#000" stroke-width="0.6" />
<line x1="488.90" y1="300.44" x2="490.50" y2="300.44" stroke="#000" stroke-width="0.6" />
<line x1="488.90" y1="297.92" x2="490.50" y2="297.92" stroke="#000" stroke-width="0.6" />
<line x1="488.90" y1="295.74" x2="490.50" y2="295.74" stroke="#000" stroke-width="0.6" />
<line x1="488.90" y1="293.82" x2="490.50" y2="293.82" stroke="#000" stroke-width="0.6" />
<text x="0" y="0" font-size="8.2" text-anchor="middle" font-weight="bold" transform="translate(466.5 296.5) rotate(-90)" textLength="65" lengthAdjust="spacingAndGlyphs">Mean normalized</text>
<text x="0" y="0" font-size="8.2" text-anchor="middle" font-weight="bold" transform="translate(475.8 296.5) rotate(-90)">FPKM values</text>
<rect x="497.50" y="282.50" width="11.00" height="10.00" fill="#b6b6b6" stroke="#111" stroke-width="0.9" />
<rect x="512.50" y="292.50" width="12.00" height="1.00" fill="#b6b6b6" stroke="#111" stroke-width="0.9" />
<rect x="528.50" y="289.50" width="11.00" height="3.00" fill="#b6b6b6" stroke="#111" stroke-width="0.9" />
<rect x="544.50" y="291.50" width="11.00" height="1.00" fill="#b6b6b6" stroke="#111" stroke-width="0.9" />
<rect x="559.50" y="292.50" width="12.00" height="9.00" fill="#b6b6b6" stroke="#111" stroke-width="0.9" />
<rect x="575.50" y="292.50" width="12.00" height="5.00" fill="#b6b6b6" stroke="#111" stroke-width="0.9" />
<rect x="591.50" y="292.50" width="12.00" height="6.00" fill="#ff0000" stroke="#111" stroke-width="0.9" />
<rect x="607.50" y="292.50" width="11.00" height="11.00" fill="#ff0000" stroke="#111" stroke-width="0.9" />
<line x1="490.50" y1="292.50" x2="626.50" y2="292.50" stroke="#555" stroke-width="1.6" />
<circle cx="502.80" cy="260.20" r="1.10" fill="#000" />
<circle cx="502.80" cy="267.00" r="1.10" fill="#000" />
<circle cx="502.80" cy="273.80" r="1.10" fill="#000" />
<circle cx="502.80" cy="276.40" r="1.10" fill="#000" />
<circle cx="502.99" cy="279.30" r="1.10" fill="#000" />
<circle cx="501.19" cy="281.00" r="1.10" fill="#000" />
<circle cx="497.50" cy="282.10" r="1.10" fill="#000" />
<circle cx="502.89" cy="282.70" r="1.10" fill="#000" />
<circle cx="497.25" cy="283.80" r="1.10" fill="#000" />
<circle cx="502.00" cy="285.00" r="1.10" fill="#000" />
<circle cx="497.64" cy="286.10" r="1.10" fill="#000" />
<circle cx="497.89" cy="287.30" r="1.10" fill="#000" />
<circle cx="501.89" cy="288.40" r="1.10" fill="#000" />
<circle cx="506.72" cy="289.50" r="1.10" fill="#000" />
<circle cx="499.41" cy="291.20" r="1.10" fill="#000" />
<circle cx="501.31" cy="292.90" r="1.10" fill="#000" />
<circle cx="503.49" cy="294.60" r="1.10" fill="#000" />
<circle cx="502.80" cy="298.60" r="1.10" fill="#000" />
<circle cx="502.80" cy="307.70" r="1.10" fill="#000" />
<circle cx="502.80" cy="317.40" r="1.10" fill="#000" />
<circle cx="502.80" cy="326.50" r="1.10" fill="#000" />
<circle cx="497.36" cy="284.50" r="1.10" fill="#000" />
<circle cx="507.10" cy="286.50" r="1.10" fill="#000" />
<circle cx="500.28" cy="288.00" r="1.10" fill="#000" />
<circle cx="498.53" cy="290.00" r="1.10" fill="#000" />
<circle cx="498.21" cy="283.00" r="1.10" fill="#000" />
<circle cx="500.50" cy="282.00" r="1.10" fill="#000" />
<circle cx="506.59" cy="281.50" r="1.10" fill="#000" />
<circle cx="499.93" cy="280.00" r="1.10" fill="#000" />
<circle cx="503.78" cy="284.00" r="1.10" fill="#000" />
<circle cx="504.47" cy="286.00" r="1.10" fill="#000" />
<circle cx="501.65" cy="290.50" r="1.10" fill="#000" />
<circle cx="503.06" cy="293.50" r="1.10" fill="#000" />
<circle cx="501.23" cy="295.50" r="1.10" fill="#000" />
<circle cx="497.52" cy="289.00" r="1.10" fill="#000" />
<circle cx="499.27" cy="287.80" r="1.10" fill="#000" />
<circle cx="504.96" cy="285.80" r="1.10" fill="#000" />
<line x1="502.80" y1="343.80" x2="502.80" y2="346.20" stroke="#000" stroke-width="0.9" />
<text x="502.80" y="354.20" font-size="6.1" text-anchor="middle" font-weight="normal" fill="#000" letter-spacing="0.15" style="stroke-width:0.4px">1.61</text>
<circle cx="518.30" cy="281.00" r="1.10" fill="#000" />
<circle cx="517.97" cy="285.00" r="1.10" fill="#000" />
<circle cx="518.61" cy="286.10" r="1.10" fill="#000" />
<circle cx="517.74" cy="288.40" r="1.10" fill="#000" />
<circle cx="515.90" cy="289.50" r="1.10" fill="#000" />
<circle cx="521.83" cy="290.10" r="1.10" fill="#000" />
<circle cx="520.69" cy="290.70" r="1.10" fill="#000" />
<circle cx="515.23" cy="291.20" r="1.10" fill="#000" />
<circle cx="519.19" cy="291.80" r="1.10" fill="#000" />
<circle cx="518.60" cy="292.40" r="1.10" fill="#000" />
<circle cx="522.80" cy="292.90" r="1.10" fill="#000" />
<circle cx="521.05" cy="293.50" r="1.10" fill="#000" />
<circle cx="515.76" cy="294.10" r="1.10" fill="#000" />
<circle cx="524.06" cy="295.20" r="1.10" fill="#000" />
<circle cx="514.18" cy="296.30" r="1.10" fill="#000" />
<circle cx="517.71" cy="297.50" r="1.10" fill="#000" />
<circle cx="519.69" cy="298.60" r="1.10" fill="#000" />
<circle cx="517.05" cy="300.30" r="1.10" fill="#000" />
<circle cx="518.28" cy="301.50" r="1.10" fill="#000" />
<circle cx="517.47" cy="307.70" r="1.10" fill="#000" />
<circle cx="518.60" cy="309.40" r="1.10" fill="#000" />
<circle cx="518.30" cy="312.80" r="1.10" fill="#000" />
<circle cx="519.18" cy="290.00" r="1.10" fill="#000" />
<circle cx="522.81" cy="291.00" r="1.10" fill="#000" />
<circle cx="516.06" cy="292.00" r="1.10" fill="#000" />
<circle cx="520.64" cy="293.00" r="1.10" fill="#000" />
<circle cx="519.43" cy="294.00" r="1.10" fill="#000" />
<circle cx="519.26" cy="289.00" r="1.10" fill="#000" />
<circle cx="517.77" cy="290.50" r="1.10" fill="#000" />
<circle cx="522.38" cy="291.50" r="1.10" fill="#000" />
<circle cx="523.64" cy="292.50" r="1.10" fill="#000" />
<circle cx="517.99" cy="293.00" r="1.10" fill="#000" />
<circle cx="520.27" cy="295.00" r="1.10" fill="#000" />
<circle cx="513.03" cy="296.00" r="1.10" fill="#000" />
<circle cx="520.48" cy="297.00" r="1.10" fill="#000" />
<circle cx="520.07" cy="288.80" r="1.10" fill="#000" />
<circle cx="522.74" cy="287.50" r="1.10" fill="#000" />
<line x1="518.30" y1="343.80" x2="518.30" y2="346.20" stroke="#000" stroke-width="0.9" />
<text x="518.30" y="354.20" font-size="6.1" text-anchor="middle" font-weight="normal" fill="#000" letter-spacing="0.15" style="stroke-width:0.4px">0.89</text>
<circle cx="534.00" cy="276.40" r="1.10" fill="#000" />
<circle cx="532.84" cy="279.90" r="1.10" fill="#000" />
<circle cx="532.63" cy="281.80" r="1.10" fill="#000" />
<circle cx="536.02" cy="282.50" r="1.10" fill="#000" />
<circle cx="528.27" cy="282.90" r="1.10" fill="#000" />
<circle cx="533.54" cy="283.80" r="1.10" fill="#000" />
<circle cx="530.41" cy="285.00" r="1.10" fill="#000" />
<circle cx="531.93" cy="286.10" r="1.10" fill="#000" />
<circle cx="531.62" cy="287.30" r="1.10" fill="#000" />
<circle cx="535.45" cy="288.40" r="1.10" fill="#000" />
<circle cx="532.00" cy="290.10" r="1.10" fill="#000" />
<circle cx="532.18" cy="291.20" r="1.10" fill="#000" />
<circle cx="533.61" cy="292.40" r="1.10" fill="#000" />
<circle cx="535.34" cy="296.90" r="1.10" fill="#000" />
<circle cx="532.49" cy="298.10" r="1.10" fill="#000" />
<circle cx="533.82" cy="301.50" r="1.10" fill="#000" />
<circle cx="534.18" cy="304.90" r="1.10" fill="#000" />
<circle cx="534.69" cy="307.70" r="1.10" fill="#000" />
<circle cx="534.57" cy="311.70" r="1.10" fill="#000" />
<circle cx="535.31" cy="313.40" r="1.10" fill="#000" />
<circle cx="533.60" cy="314.50" r="1.10" fill="#000" />
<circle cx="534.00" cy="323.60" r="1.10" fill="#000" />
<circle cx="534.00" cy="327.60" r="1.10" fill="#000" />
<circle cx="534.00" cy="336.10" r="1.10" fill="#000" />
<circle cx="539.49" cy="282.00" r="1.10" fill="#000" />
<circle cx="529.81" cy="282.40" r="1.10" fill="#000" />
<circle cx="530.11" cy="283.00" r="1.10" fill="#000" />
<circle cx="530.78" cy="281.50" r="1.10" fill="#000" />
<circle cx="530.80" cy="282.60" r="1.10" fill="#000" />
<circle cx="533.82" cy="283.30" r="1.10" fill="#000" />
<circle cx="535.07" cy="284.50" r="1.10" fill="#000" />
<circle cx="532.29" cy="289.00" r="1.10" fill="#000" />
<circle cx="532.21" cy="292.80" r="1.10" fill="#000" />
<circle cx="533.85" cy="295.50" r="1.10" fill="#000" />
<circle cx="533.53" cy="300.30" r="1.10" fill="#000" />
<circle cx="534.24" cy="303.20" r="1.10" fill="#000" />
<circle cx="535.63" cy="306.00" r="1.10" fill="#000" />
<line x1="534.00" y1="343.80" x2="534.00" y2="346.20" stroke="#000" stroke-width="0.9" />
<text x="534.00" y="354.20" font-size="6.1" text-anchor="middle" font-weight="normal" fill="#000" letter-spacing="0.15" style="stroke-width:0.4px">1.15</text>
<circle cx="550.34" cy="270.80" r="1.10" fill="#000" />
<circle cx="550.06" cy="272.50" r="1.10" fill="#000" />
<circle cx="550.21" cy="274.20" r="1.10" fill="#000" />
<circle cx="550.00" cy="279.30" r="1.10" fill="#000" />
<circle cx="548.39" cy="281.60" r="1.10" fill="#000" />
<circle cx="552.16" cy="282.70" r="1.10" fill="#000" />
<circle cx="552.02" cy="283.80" r="1.10" fill="#000" />
<circle cx="552.70" cy="285.00" r="1.10" fill="#000" />
<circle cx="552.68" cy="286.10" r="1.10" fill="#000" />
<circle cx="548.84" cy="287.30" r="1.10" fill="#000" />
<circle cx="548.79" cy="288.40" r="1.10" fill="#000" />
<circle cx="545.24" cy="289.50" r="1.10" fill="#000" />
<circle cx="551.61" cy="290.70" r="1.10" fill="#000" />
<circle cx="544.75" cy="291.80" r="1.10" fill="#000" />
<circle cx="544.81" cy="292.90" r="1.10" fill="#000" />
<circle cx="546.51" cy="294.10" r="1.10" fill="#000" />
<circle cx="545.95" cy="294.60" r="1.10" fill="#000" />
<circle cx="548.56" cy="295.20" r="1.10" fill="#000" />
<circle cx="549.19" cy="297.50" r="1.10" fill="#000" />
<circle cx="549.10" cy="298.60" r="1.10" fill="#000" />
<circle cx="550.00" cy="300.90" r="1.10" fill="#000" />
<circle cx="550.00" cy="306.60" r="1.10" fill="#000" />
<circle cx="549.75" cy="319.10" r="1.10" fill="#000" />
<circle cx="549.15" cy="320.20" r="1.10" fill="#000" />
<circle cx="554.49" cy="290.00" r="1.10" fill="#000" />
<circle cx="551.37" cy="291.00" r="1.10" fill="#000" />
<circle cx="545.78" cy="292.00" r="1.10" fill="#000" />
<circle cx="547.03" cy="293.00" r="1.10" fill="#000" />
<circle cx="548.17" cy="294.00" r="1.10" fill="#000" />
<circle cx="548.37" cy="289.00" r="1.10" fill="#000" />
<circle cx="545.47" cy="290.50" r="1.10" fill="#000" />
<circle cx="554.19" cy="291.50" r="1.10" fill="#000" />
<circle cx="555.92" cy="292.50" r="1.10" fill="#000" />
<circle cx="549.59" cy="293.00" r="1.10" fill="#000" />
<circle cx="549.81" cy="288.00" r="1.10" fill="#000" />
<circle cx="545.53" cy="286.50" r="1.10" fill="#000" />
<circle cx="546.42" cy="284.50" r="1.10" fill="#000" />
<line x1="550.00" y1="343.80" x2="550.00" y2="346.20" stroke="#000" stroke-width="0.9" />
<text x="550.00" y="354.20" font-size="6.1" text-anchor="middle" font-weight="normal" fill="#000" letter-spacing="0.15" style="stroke-width:0.4px">1.06</text>
<circle cx="565.70" cy="266.10" r="1.10" fill="#000" />
<circle cx="565.28" cy="288.10" r="1.10" fill="#000" />
<circle cx="566.88" cy="289.60" r="1.10" fill="#000" />
<circle cx="563.26" cy="291.80" r="1.10" fill="#000" />
<circle cx="560.55" cy="293.30" r="1.10" fill="#000" />
<circle cx="570.57" cy="294.80" r="1.10" fill="#000" />
<circle cx="566.04" cy="296.30" r="1.10" fill="#000" />
<circle cx="561.46" cy="297.70" r="1.10" fill="#000" />
<circle cx="566.22" cy="299.20" r="1.10" fill="#000" />
<circle cx="560.02" cy="300.70" r="1.10" fill="#000" />
<circle cx="566.04" cy="302.20" r="1.10" fill="#000" />
<circle cx="570.01" cy="303.70" r="1.10" fill="#000" />
<circle cx="568.97" cy="305.20" r="1.10" fill="#000" />
<circle cx="566.76" cy="306.70" r="1.10" fill="#000" />
<circle cx="564.41" cy="308.10" r="1.10" fill="#000" />
<circle cx="565.46" cy="309.60" r="1.10" fill="#000" />
<circle cx="565.70" cy="314.80" r="1.10" fill="#000" />
<circle cx="566.19" cy="317.10" r="1.10" fill="#000" />
<circle cx="565.82" cy="319.30" r="1.10" fill="#000" />
<circle cx="566.20" cy="321.50" r="1.10" fill="#000" />
<circle cx="565.70" cy="326.00" r="1.10" fill="#000" />
<circle cx="565.70" cy="337.10" r="1.10" fill="#000" />
<circle cx="569.06" cy="293.00" r="1.10" fill="#000" />
<circle cx="571.52" cy="294.50" r="1.10" fill="#000" />
<circle cx="569.93" cy="296.00" r="1.10" fill="#000" />
<circle cx="569.37" cy="297.50" r="1.10" fill="#000" />
<circle cx="569.52" cy="299.00" r="1.10" fill="#000" />
<circle cx="568.58" cy="300.50" r="1.10" fill="#000" />
<circle cx="562.42" cy="302.00" r="1.10" fill="#000" />
<circle cx="565.89" cy="303.00" r="1.10" fill="#000" />
<circle cx="564.14" cy="295.00" r="1.10" fill="#000" />
<circle cx="560.05" cy="298.00" r="1.10" fill="#000" />
<circle cx="560.04" cy="301.00" r="1.10" fill="#000" />
<circle cx="563.32" cy="304.00" r="1.10" fill="#000" />
<circle cx="563.97" cy="306.00" r="1.10" fill="#000" />
<circle cx="567.09" cy="292.50" r="1.10" fill="#000" />
<circle cx="571.18" cy="298.80" r="1.10" fill="#000" />
<line x1="565.70" y1="343.80" x2="565.70" y2="346.20" stroke="#000" stroke-width="0.9" />
<text x="565.70" y="354.20" font-size="6.1" text-anchor="middle" font-weight="normal" fill="#000" letter-spacing="0.15" style="stroke-width:0.4px">0.56</text>
<circle cx="581.51" cy="269.50" r="1.10" fill="#000" />
<circle cx="582.39" cy="271.70" r="1.10" fill="#000" />
<circle cx="583.36" cy="274.00" r="1.10" fill="#000" />
<circle cx="585.70" cy="276.20" r="1.10" fill="#000" />
<circle cx="580.63" cy="276.90" r="1.10" fill="#000" />
<circle cx="580.09" cy="278.40" r="1.10" fill="#000" />
<circle cx="581.60" cy="280.70" r="1.10" fill="#000" />
<circle cx="581.60" cy="284.40" r="1.10" fill="#000" />
<circle cx="581.60" cy="287.30" r="1.10" fill="#000" />
<circle cx="581.82" cy="289.60" r="1.10" fill="#000" />
<circle cx="584.48" cy="292.50" r="1.10" fill="#000" />
<circle cx="585.69" cy="294.80" r="1.10" fill="#000" />
<circle cx="581.35" cy="296.30" r="1.10" fill="#000" />
<circle cx="583.44" cy="297.70" r="1.10" fill="#000" />
<circle cx="584.30" cy="299.20" r="1.10" fill="#000" />
<circle cx="577.86" cy="300.70" r="1.10" fill="#000" />
<circle cx="582.76" cy="302.20" r="1.10" fill="#000" />
<circle cx="584.55" cy="303.70" r="1.10" fill="#000" />
<circle cx="583.12" cy="305.20" r="1.10" fill="#000" />
<circle cx="582.05" cy="307.40" r="1.10" fill="#000" />
<circle cx="581.60" cy="309.60" r="1.10" fill="#000" />
<circle cx="581.60" cy="313.40" r="1.10" fill="#000" />
<circle cx="581.60" cy="338.30" r="1.10" fill="#000" />
<circle cx="580.09" cy="293.00" r="1.10" fill="#000" />
<circle cx="584.85" cy="294.00" r="1.10" fill="#000" />
<circle cx="587.26" cy="295.50" r="1.10" fill="#000" />
<circle cx="580.48" cy="296.80" r="1.10" fill="#000" />
<circle cx="580.53" cy="298.00" r="1.10" fill="#000" />
<circle cx="585.62" cy="299.50" r="1.10" fill="#000" />
<circle cx="583.62" cy="301.00" r="1.10" fill="#000" />
<circle cx="577.64" cy="296.00" r="1.10" fill="#000" />
<circle cx="577.12" cy="294.30" r="1.10" fill="#000" />
<circle cx="578.46" cy="302.70" r="1.10" fill="#000" />
<circle cx="583.79" cy="304.50" r="1.10" fill="#000" />
<circle cx="583.26" cy="291.00" r="1.10" fill="#000" />
<circle cx="579.69" cy="275.00" r="1.10" fill="#000" />
<circle cx="583.36" cy="277.50" r="1.10" fill="#000" />
<line x1="581.60" y1="343.80" x2="581.60" y2="346.20" stroke="#000" stroke-width="0.9" />
<text x="581.60" y="354.20" font-size="6.1" text-anchor="middle" font-weight="normal" fill="#000" letter-spacing="0.15" style="stroke-width:0.4px">0.67</text>
<circle cx="597.30" cy="278.40" r="1.10" fill="#000" />
<circle cx="597.30" cy="281.40" r="1.10" fill="#000" />
<circle cx="597.30" cy="283.90" r="1.10" fill="#000" />
<circle cx="597.30" cy="287.30" r="1.10" fill="#000" />
<circle cx="595.31" cy="289.60" r="1.10" fill="#000" />
<circle cx="592.05" cy="291.10" r="1.10" fill="#000" />
<circle cx="602.95" cy="292.50" r="1.10" fill="#000" />
<circle cx="599.10" cy="294.00" r="1.10" fill="#000" />
<circle cx="597.62" cy="295.50" r="1.10" fill="#000" />
<circle cx="602.50" cy="297.00" r="1.10" fill="#000" />
<circle cx="596.51" cy="298.50" r="1.10" fill="#000" />
<circle cx="601.76" cy="300.00" r="1.10" fill="#000" />
<circle cx="600.82" cy="301.50" r="1.10" fill="#000" />
<circle cx="594.18" cy="303.70" r="1.10" fill="#000" />
<circle cx="595.51" cy="305.90" r="1.10" fill="#000" />
<circle cx="596.55" cy="308.10" r="1.10" fill="#000" />
<circle cx="596.83" cy="309.60" r="1.10" fill="#000" />
<circle cx="597.30" cy="318.60" r="1.10" fill="#000" />
<circle cx="594.41" cy="292.00" r="1.10" fill="#000" />
<circle cx="596.33" cy="293.00" r="1.10" fill="#000" />
<circle cx="592.87" cy="294.50" r="1.10" fill="#000" />
<circle cx="602.22" cy="295.00" r="1.10" fill="#000" />
<circle cx="595.55" cy="296.00" r="1.10" fill="#000" />
<circle cx="596.80" cy="297.50" r="1.10" fill="#000" />
<circle cx="598.30" cy="299.00" r="1.10" fill="#000" />
<circle cx="601.67" cy="300.50" r="1.10" fill="#000" />
<circle cx="596.44" cy="302.00" r="1.10" fill="#000" />
<circle cx="601.06" cy="304.50" r="1.10" fill="#000" />
<circle cx="597.31" cy="306.50" r="1.10" fill="#000" />
<circle cx="597.68" cy="293.50" r="1.10" fill="#000" />
<circle cx="597.58" cy="296.50" r="1.10" fill="#000" />
<circle cx="591.52" cy="291.50" r="1.10" fill="#000" />
<circle cx="596.76" cy="290.50" r="1.10" fill="#000" />
<circle cx="593.50" cy="298.00" r="1.10" fill="#000" />
<circle cx="591.94" cy="300.80" r="1.10" fill="#000" />
<circle cx="600.53" cy="303.00" r="1.10" fill="#000" />
<circle cx="594.35" cy="305.00" r="1.10" fill="#000" />
<line x1="597.30" y1="343.80" x2="597.30" y2="346.20" stroke="#000" stroke-width="0.9" />
<text x="597.30" y="354.20" font-size="6.1" text-anchor="middle" font-weight="normal" fill="#000" letter-spacing="0.15" style="stroke-width:0.4px">0.50</text>
<circle cx="613.10" cy="279.50" r="1.10" fill="#000" />
<circle cx="613.91" cy="289.60" r="1.10" fill="#000" />
<circle cx="613.51" cy="291.10" r="1.10" fill="#000" />
<circle cx="611.22" cy="292.50" r="1.10" fill="#000" />
<circle cx="613.30" cy="294.00" r="1.10" fill="#000" />
<circle cx="613.77" cy="295.50" r="1.10" fill="#000" />
<circle cx="616.17" cy="297.00" r="1.10" fill="#000" />
<circle cx="608.37" cy="298.50" r="1.10" fill="#000" />
<circle cx="613.75" cy="300.00" r="1.10" fill="#000" />
<circle cx="610.38" cy="301.50" r="1.10" fill="#000" />
<circle cx="611.09" cy="303.70" r="1.10" fill="#000" />
<circle cx="614.57" cy="305.90" r="1.10" fill="#000" />
<circle cx="613.11" cy="308.10" r="1.10" fill="#000" />
<circle cx="613.21" cy="314.80" r="1.10" fill="#000" />
<circle cx="614.50" cy="317.10" r="1.10" fill="#000" />
<circle cx="615.33" cy="319.30" r="1.10" fill="#000" />
<circle cx="613.00" cy="321.50" r="1.10" fill="#000" />
<circle cx="613.30" cy="323.80" r="1.10" fill="#000" />
<circle cx="613.11" cy="325.20" r="1.10" fill="#000" />
<circle cx="613.10" cy="329.00" r="1.10" fill="#000" />
<circle cx="614.83" cy="293.00" r="1.10" fill="#000" />
<circle cx="612.53" cy="294.50" r="1.10" fill="#000" />
<circle cx="613.46" cy="296.00" r="1.10" fill="#000" />
<circle cx="612.86" cy="297.50" r="1.10" fill="#000" />
<circle cx="617.87" cy="299.00" r="1.10" fill="#000" />
<circle cx="615.49" cy="300.50" r="1.10" fill="#000" />
<circle cx="617.17" cy="302.00" r="1.10" fill="#000" />
<circle cx="617.08" cy="293.50" r="1.10" fill="#000" />
<circle cx="610.50" cy="296.50" r="1.10" fill="#000" />
<circle cx="613.74" cy="299.80" r="1.10" fill="#000" />
<circle cx="617.09" cy="302.50" r="1.10" fill="#000" />
<circle cx="614.94" cy="290.50" r="1.10" fill="#000" />
<circle cx="611.14" cy="304.50" r="1.10" fill="#000" />
<circle cx="611.74" cy="307.00" r="1.10" fill="#000" />
<circle cx="613.10" cy="312.00" r="1.10" fill="#000" />
<circle cx="611.56" cy="316.00" r="1.10" fill="#000" />
<circle cx="612.17" cy="318.50" r="1.10" fill="#000" />
<line x1="613.10" y1="343.80" x2="613.10" y2="346.20" stroke="#000" stroke-width="0.9" />
<text x="613.10" y="354.20" font-size="6.1" text-anchor="middle" font-weight="normal" fill="#000" letter-spacing="0.15" style="stroke-width:0.4px">0.68</text>
<text x="462.60" y="353.98" font-size="6.6" text-anchor="start" font-weight="bold" fill="#000" textLength="22.2" lengthAdjust="spacingAndGlyphs" style="">Median</text>
<text x="504.80" y="360.80" font-size="6.6" text-anchor="end" font-weight="bold" transform="rotate(-45 504.80 360.80)" >SW480</text>
<text x="521.40" y="360.80" font-size="6.6" text-anchor="end" font-weight="bold" transform="rotate(-45 521.40 360.80)" >SW1417</text>
<text x="537.60" y="360.80" font-size="6.6" text-anchor="end" font-weight="bold" transform="rotate(-45 537.60 360.80)" >LS123</text>
<text x="557.10" y="360.80" font-size="6.6" text-anchor="end" font-weight="bold" transform="rotate(-45 557.10 360.80)" >SW403</text>
<text x="574.40" y="360.80" font-size="6.6" text-anchor="end" font-weight="bold" transform="rotate(-45 574.40 360.80)" >SW620</text>
<text x="588.80" y="360.80" font-size="6.6" text-anchor="end" font-weight="bold" transform="rotate(-45 588.80 360.80)" >SW48</text>
<text x="607.50" y="360.80" font-size="6.6" text-anchor="end" font-weight="bold" transform="rotate(-45 607.50 360.80)" >COLO-320</text>
<text x="625.30" y="360.80" font-size="6.6" text-anchor="end" font-weight="bold" transform="rotate(-45 625.30 360.80)" >HCT-15</text>
<text x="-0.30" y="409.30" font-size="16" text-anchor="start" font-weight="bold" fill="#000"  style="">E</text>
<text x="82.5" y="429.6" font-size="10.6" font-weight="bold" textLength="72.5" lengthAdjust="spacingAndGlyphs">mt<tspan font-style="italic">ATP8</tspan>/g<tspan font-style="italic">B2M</tspan></text>
<line x1="53.50" y1="456.30" x2="53.50" y2="546.85" stroke="#000" stroke-width="1.4" />
<line x1="53.00" y1="546.50" x2="190.50" y2="546.50" stroke="#000" stroke-width="1.4" />
<line x1="50.50" y1="456.80" x2="53.50" y2="456.80" stroke="#000" stroke-width="0.9" />
<text x="48.60" y="459.07" font-size="6.3" text-anchor="end" font-weight="bold" fill="#000" textLength="22.8" lengthAdjust="spacingAndGlyphs" style="">100000</text>
<line x1="51.80" y1="477.66" x2="53.50" y2="477.66" stroke="#000" stroke-width="0.6" />
<line x1="51.80" y1="472.41" x2="53.50" y2="472.41" stroke="#000" stroke-width="0.6" />
<line x1="51.80" y1="468.68" x2="53.50" y2="468.68" stroke="#000" stroke-width="0.6" />
<line x1="51.80" y1="465.79" x2="53.50" y2="465.79" stroke="#000" stroke-width="0.6" />
<line x1="51.80" y1="463.42" x2="53.50" y2="463.42" stroke="#000" stroke-width="0.6" />
<line x1="51.80" y1="461.42" x2="53.50" y2="461.42" stroke="#000" stroke-width="0.6" />
<line x1="51.80" y1="459.69" x2="53.50" y2="459.69" stroke="#000" stroke-width="0.6" />
<line x1="51.80" y1="458.17" x2="53.50" y2="458.17" stroke="#000" stroke-width="0.6" />
<line x1="50.50" y1="486.65" x2="53.50" y2="486.65" stroke="#000" stroke-width="0.9" />
<text x="48.60" y="488.92" font-size="6.3" text-anchor="end" font-weight="bold" fill="#000" textLength="19.0" lengthAdjust="spacingAndGlyphs" style="">10000</text>
<line x1="51.80" y1="507.51" x2="53.50" y2="507.51" stroke="#000" stroke-width="0.6" />
<line x1="51.80" y1="502.26" x2="53.50" y2="502.26" stroke="#000" stroke-width="0.6" />
<line x1="51.80" y1="498.53" x2="53.50" y2="498.53" stroke="#000" stroke-width="0.6" />
<line x1="51.80" y1="495.64" x2="53.50" y2="495.64" stroke="#000" stroke-width="0.6" />
<line x1="51.80" y1="493.27" x2="53.50" y2="493.27" stroke="#000" stroke-width="0.6" />
<line x1="51.80" y1="491.27" x2="53.50" y2="491.27" stroke="#000" stroke-width="0.6" />
<line x1="51.80" y1="489.54" x2="53.50" y2="489.54" stroke="#000" stroke-width="0.6" />
<line x1="51.80" y1="488.02" x2="53.50" y2="488.02" stroke="#000" stroke-width="0.6" />
<line x1="50.50" y1="516.50" x2="53.50" y2="516.50" stroke="#000" stroke-width="0.9" />
<text x="48.60" y="518.77" font-size="6.3" text-anchor="end" font-weight="bold" fill="#000" textLength="15.2" lengthAdjust="spacingAndGlyphs" style="">1000</text>
<line x1="51.80" y1="537.36" x2="53.50" y2="537.36" stroke="#000" stroke-width="0.6" />
<line x1="51.80" y1="532.11" x2="53.50" y2="532.11" stroke="#000" stroke-width="0.6" />
<line x1="51.80" y1="528.38" x2="53.50" y2="528.38" stroke="#000" stroke-width="0.6" />
<line x1="51.80" y1="525.49" x2="53.50" y2="525.49" stroke="#000" stroke-width="0.6" />
<line x1="51.80" y1="523.12" x2="53.50" y2="523.12" stroke="#000" stroke-width="0.6" />
<line x1="51.80" y1="521.12" x2="53.50" y2="521.12" stroke="#000" stroke-width="0.6" />
<line x1="51.80" y1="519.39" x2="53.50" y2="519.39" stroke="#000" stroke-width="0.6" />
<line x1="51.80" y1="517.87" x2="53.50" y2="517.87" stroke="#000" stroke-width="0.6" />
<line x1="50.50" y1="546.35" x2="53.50" y2="546.35" stroke="#000" stroke-width="0.9" />
<text x="48.60" y="548.62" font-size="6.3" text-anchor="end" font-weight="bold" fill="#000" textLength="11.4" lengthAdjust="spacingAndGlyphs" style="">100</text>
<text x="0" y="0" font-size="7.9" font-weight="bold" text-anchor="middle" transform="translate(10.3 501.6) rotate(-90)">mtDNA/gDNA</text>
<text x="0" y="0" font-size="7.9" font-weight="bold" text-anchor="middle" transform="translate(19.2 501.6) rotate(-90)">copy number</text>
<rect x="59.50" y="515.50" width="12.00" height="31.00" fill="#a3a3a8" stroke="#111" stroke-width="0.9" />
<line x1="65.60" y1="512.90" x2="65.60" y2="518.00" stroke="#000" stroke-width="0.9" />
<line x1="63.10" y1="512.90" x2="68.10" y2="512.90" stroke="#000" stroke-width="0.9" />
<line x1="63.10" y1="518.00" x2="68.10" y2="518.00" stroke="#000" stroke-width="0.9" />
<circle cx="62.10" cy="514.40" r="1.90" fill="#000" />
<circle cx="65.60" cy="519.50" r="1.90" fill="#000" />
<circle cx="69.30" cy="515.50" r="1.90" fill="#000" />
<line x1="65.60" y1="546.35" x2="65.60" y2="548.75" stroke="#000" stroke-width="0.9" />
<text x="67.40" y="555.70" font-size="6.6" text-anchor="end" font-weight="bold" transform="rotate(-45 67.40 555.70)" >SW480</text>
<rect x="75.50" y="503.50" width="12.00" height="43.00" fill="#a3a3a8" stroke="#111" stroke-width="0.9" />
<line x1="81.40" y1="500.10" x2="81.40" y2="506.70" stroke="#000" stroke-width="0.9" />
<line x1="78.90" y1="500.10" x2="83.90" y2="500.10" stroke="#000" stroke-width="0.9" />
<line x1="78.90" y1="506.70" x2="83.90" y2="506.70" stroke="#000" stroke-width="0.9" />
<circle cx="77.50" cy="500.10" r="1.90" fill="#000" />
<circle cx="85.20" cy="500.10" r="1.90" fill="#000" />
<circle cx="81.40" cy="512.20" r="1.90" fill="#000" />
<line x1="81.40" y1="546.35" x2="81.40" y2="548.75" stroke="#000" stroke-width="0.9" />
<text x="83.20" y="555.70" font-size="6.6" text-anchor="end" font-weight="bold" transform="rotate(-45 83.20 555.70)" >SW1417</text>
<rect x="91.50" y="524.50" width="11.00" height="22.00" fill="#a3a3a8" stroke="#111" stroke-width="0.9" />
<line x1="97.20" y1="522.50" x2="97.20" y2="526.00" stroke="#000" stroke-width="0.9" />
<line x1="94.70" y1="522.50" x2="99.70" y2="522.50" stroke="#000" stroke-width="0.9" />
<line x1="94.70" y1="526.00" x2="99.70" y2="526.00" stroke="#000" stroke-width="0.9" />
<circle cx="93.40" cy="521.60" r="1.90" fill="#000" />
<circle cx="100.90" cy="521.60" r="1.90" fill="#000" />
<circle cx="97.20" cy="528.70" r="1.90" fill="#000" />
<line x1="97.20" y1="546.35" x2="97.20" y2="548.75" stroke="#000" stroke-width="0.9" />
<text x="99.00" y="555.70" font-size="6.6" text-anchor="end" font-weight="bold" transform="rotate(-45 99.00 555.70)" >LS123</text>
<rect x="107.50" y="511.50" width="11.00" height="35.00" fill="#a3a3a8" stroke="#111" stroke-width="0.9" />
<line x1="112.90" y1="509.50" x2="112.90" y2="512.00" stroke="#000" stroke-width="0.9" />
<line x1="110.40" y1="509.50" x2="115.40" y2="509.50" stroke="#000" stroke-width="0.9" />
<line x1="110.40" y1="512.00" x2="115.40" y2="512.00" stroke="#000" stroke-width="0.9" />
<circle cx="109.60" cy="511.50" r="1.90" fill="#000" />
<circle cx="112.90" cy="508.90" r="1.90" fill="#000" />
<circle cx="116.40" cy="511.50" r="1.90" fill="#000" />
<line x1="112.90" y1="546.35" x2="112.90" y2="548.75" stroke="#000" stroke-width="0.9" />
<text x="114.70" y="555.70" font-size="6.6" text-anchor="end" font-weight="bold" transform="rotate(-45 114.70 555.70)" >SW403</text>
<rect x="123.50" y="482.50" width="11.00" height="64.00" fill="#a3a3a8" stroke="#111" stroke-width="0.9" />
<line x1="128.70" y1="477.00" x2="128.70" y2="490.20" stroke="#000" stroke-width="0.9" />
<line x1="126.20" y1="477.00" x2="131.20" y2="477.00" stroke="#000" stroke-width="0.9" />
<line x1="126.20" y1="490.20" x2="131.20" y2="490.20" stroke="#000" stroke-width="0.9" />
<circle cx="128.70" cy="473.70" r="1.90" fill="#000" />
<circle cx="124.70" cy="490.20" r="1.90" fill="#000" />
<circle cx="132.40" cy="486.50" r="1.90" fill="#000" />
<line x1="128.70" y1="546.35" x2="128.70" y2="548.75" stroke="#000" stroke-width="0.9" />
<text x="130.50" y="555.70" font-size="6.6" text-anchor="end" font-weight="bold" transform="rotate(-45 130.50 555.70)" >SW620</text>
<rect x="138.50" y="516.50" width="12.00" height="30.00" fill="#a3a3a8" stroke="#111" stroke-width="0.9" />
<line x1="144.50" y1="512.90" x2="144.50" y2="519.20" stroke="#000" stroke-width="0.9" />
<line x1="142.00" y1="512.90" x2="147.00" y2="512.90" stroke="#000" stroke-width="0.9" />
<line x1="142.00" y1="519.20" x2="147.00" y2="519.20" stroke="#000" stroke-width="0.9" />
<circle cx="140.10" cy="512.90" r="1.90" fill="#000" />
<circle cx="149.30" cy="512.90" r="1.90" fill="#000" />
<circle cx="144.50" cy="524.70" r="1.90" fill="#000" />
<line x1="144.50" y1="546.35" x2="144.50" y2="548.75" stroke="#000" stroke-width="0.9" />
<text x="146.30" y="555.70" font-size="6.6" text-anchor="end" font-weight="bold" transform="rotate(-45 146.30 555.70)" >SW48</text>
<rect x="154.50" y="503.50" width="11.00" height="43.00" fill="#ff0000" stroke="#111" stroke-width="0.9" />
<line x1="160.20" y1="501.50" x2="160.20" y2="504.50" stroke="#000" stroke-width="0.9" />
<line x1="157.70" y1="501.50" x2="162.70" y2="501.50" stroke="#000" stroke-width="0.9" />
<line x1="157.70" y1="504.50" x2="162.70" y2="504.50" stroke="#000" stroke-width="0.9" />
<circle cx="156.60" cy="503.40" r="1.90" fill="#000" />
<circle cx="159.90" cy="500.50" r="1.90" fill="#000" />
<circle cx="163.20" cy="503.40" r="1.90" fill="#000" />
<line x1="160.20" y1="546.35" x2="160.20" y2="548.75" stroke="#000" stroke-width="0.9" />
<text x="162.00" y="555.70" font-size="6.6" text-anchor="end" font-weight="bold" transform="rotate(-45 162.00 555.70)" >COLO-320</text>
<rect x="170.50" y="519.50" width="11.00" height="27.00" fill="#ff0000" stroke="#111" stroke-width="0.9" />
<line x1="176.00" y1="517.00" x2="176.00" y2="521.00" stroke="#000" stroke-width="0.9" />
<line x1="173.50" y1="517.00" x2="178.50" y2="517.00" stroke="#000" stroke-width="0.9" />
<line x1="173.50" y1="521.00" x2="178.50" y2="521.00" stroke="#000" stroke-width="0.9" />
<circle cx="172.30" cy="517.30" r="1.90" fill="#000" />
<circle cx="180.80" cy="517.70" r="1.90" fill="#000" />
<circle cx="176.00" cy="523.80" r="1.90" fill="#000" />
<line x1="176.00" y1="546.35" x2="176.00" y2="548.75" stroke="#000" stroke-width="0.9" />
<text x="177.80" y="555.70" font-size="6.6" text-anchor="end" font-weight="bold" transform="rotate(-45 177.80 555.70)" >HCT-15</text>
<text x="267.40" y="408.10" font-size="16" text-anchor="start" font-weight="bold" fill="#000"  style="">F</text>
<text x="307.80" y="426.00" font-size="6.8" text-anchor="start" font-weight="bold" transform="rotate(-45 307.80 426.00)" >SW480</text>
<text x="326.60" y="426.00" font-size="6.8" text-anchor="start" font-weight="bold" transform="rotate(-45 326.60 426.00)" >SW620</text>
<text x="345.30" y="426.00" font-size="6.8" text-anchor="start" font-weight="bold" transform="rotate(-45 345.30 426.00)" >LS123</text>
<text x="363.10" y="426.00" font-size="6.8" text-anchor="start" font-weight="bold" transform="rotate(-45 363.10 426.00)" >SW1417</text>
<text x="381.20" y="426.00" font-size="6.8" text-anchor="start" font-weight="bold" transform="rotate(-45 381.20 426.00)" >SW48</text>
<text x="399.10" y="426.00" font-size="6.8" text-anchor="start" font-weight="bold" transform="rotate(-45 399.10 426.00)" >COLO-320</text>
<text x="417.30" y="426.00" font-size="6.8" text-anchor="start" font-weight="bold" transform="rotate(-45 417.30 426.00)" >HCT-15</text>
<text x="435.70" y="426.00" font-size="6.8" text-anchor="start" font-weight="bold" transform="rotate(-45 435.70 426.00)" >SW403</text>
<defs><filter id="bl" x="-30%" y="-80%" width="160%" height="260%"><feGaussianBlur stdDeviation="0.6"/></filter><filter id="bl2" x="-30%" y="-80%" width="160%" height="260%"><feGaussianBlur stdDeviation="1.8"/></filter></defs>
<rect x="294.30" y="429.30" width="152.60" height="16.30" fill="#f7f7f7" stroke="none" stroke-width="1" />
<rect x="294.30" y="429.30" width="152.60" height="7.34" fill="#eeeeee" stroke="none" stroke-width="1" opacity="0.6"/>
<g filter="url(#bl2)">
<rect x="297.40" y="430.50" width="17.00" height="9.60" fill="#000" fill-opacity="0.164"/>
<rect x="316.45" y="430.60" width="16.50" height="9.40" fill="#000" fill-opacity="0.156"/>
<rect x="335.40" y="431.05" width="16.00" height="8.50" fill="#000" fill-opacity="0.098"/>
<rect x="352.70" y="428.95" width="17.00" height="12.70" fill="#000" fill-opacity="0.170"/>
<rect x="371.30" y="430.50" width="16.00" height="9.60" fill="#000" fill-opacity="0.158"/>
<rect x="388.70" y="429.60" width="17.00" height="11.40" fill="#000" fill-opacity="0.170"/>
<rect x="407.90" y="431.20" width="15.00" height="8.20" fill="#000" fill-opacity="0.110"/>
<rect x="425.30" y="430.60" width="17.00" height="9.40" fill="#000" fill-opacity="0.136"/>
</g>
<g filter="url(#bl)">
<rect x="299.20" y="432.78" width="13.40" height="4.05" rx="2.02" fill="rgb(7,7,7)"/>
<ellipse cx="302.90" cy="434.80" rx="4.50" ry="2.30" fill="rgb(7,7,7)"/>
<ellipse cx="308.90" cy="434.80" rx="4.50" ry="2.30" fill="rgb(7,7,7)"/>
<rect x="318.25" y="432.86" width="12.90" height="3.87" rx="1.94" fill="rgb(20,20,20)"/>
<ellipse cx="321.80" cy="434.80" rx="4.35" ry="2.20" fill="rgb(20,20,20)"/>
<ellipse cx="327.60" cy="434.80" rx="4.35" ry="2.20" fill="rgb(20,20,20)"/>
<rect x="337.20" y="433.26" width="12.40" height="3.08" rx="1.54" fill="rgb(138,138,138)"/>
<ellipse cx="340.60" cy="434.80" rx="4.20" ry="1.75" fill="rgb(138,138,138)"/>
<ellipse cx="346.20" cy="434.80" rx="4.20" ry="1.75" fill="rgb(138,138,138)"/>
<rect x="354.50" y="431.41" width="13.40" height="6.78" rx="2.50" fill="rgb(0,0,0)"/>
<ellipse cx="358.20" cy="434.80" rx="4.50" ry="3.85" fill="rgb(0,0,0)"/>
<ellipse cx="364.20" cy="434.80" rx="4.50" ry="3.85" fill="rgb(0,0,0)"/>
<rect x="373.10" y="432.78" width="12.40" height="4.05" rx="2.02" fill="rgb(16,16,16)"/>
<ellipse cx="376.50" cy="434.80" rx="4.20" ry="2.30" fill="rgb(16,16,16)"/>
<ellipse cx="382.10" cy="434.80" rx="4.20" ry="2.30" fill="rgb(16,16,16)"/>
<rect x="390.50" y="431.98" width="13.40" height="5.63" rx="2.50" fill="rgb(0,0,0)"/>
<ellipse cx="394.20" cy="434.80" rx="4.50" ry="3.20" fill="rgb(0,0,0)"/>
<ellipse cx="400.20" cy="434.80" rx="4.50" ry="3.20" fill="rgb(0,0,0)"/>
<rect x="409.70" y="433.39" width="11.40" height="2.82" rx="1.41" fill="rgb(110,110,110)"/>
<ellipse cx="412.80" cy="434.80" rx="3.90" ry="1.60" fill="rgb(110,110,110)"/>
<ellipse cx="418.00" cy="434.80" rx="3.90" ry="1.60" fill="rgb(110,110,110)"/>
<rect x="427.10" y="432.86" width="13.40" height="3.87" rx="1.94" fill="rgb(55,55,55)"/>
<ellipse cx="430.80" cy="434.80" rx="4.50" ry="2.20" fill="rgb(55,55,55)"/>
<ellipse cx="436.80" cy="434.80" rx="4.50" ry="2.20" fill="rgb(55,55,55)"/>
</g>
<rect x="294.50" y="429.50" width="152.00" height="16.00" fill="none" stroke="#4a4a4a" stroke-width="1.1" />
<text x="292.00" y="439.86" font-size="6.7" text-anchor="end" font-weight="bold" fill="#000"  style="">NDUFB8 (I)</text>
<rect x="294.30" y="450.60" width="152.60" height="16.10" fill="#f7f7f7" stroke="none" stroke-width="1" />
<rect x="294.30" y="450.60" width="152.60" height="7.24" fill="#eeeeee" stroke="none" stroke-width="1" opacity="0.6"/>
<g filter="url(#bl2)">
<rect x="297.90" y="454.60" width="16.00" height="8.60" fill="#000" fill-opacity="0.124"/>
<rect x="316.45" y="454.30" width="16.50" height="9.20" fill="#000" fill-opacity="0.154"/>
<rect x="335.90" y="455.10" width="15.00" height="7.60" fill="#000" fill-opacity="0.074"/>
<rect x="353.20" y="454.60" width="16.00" height="8.60" fill="#000" fill-opacity="0.110"/>
<rect x="371.30" y="453.95" width="16.00" height="9.90" fill="#000" fill-opacity="0.166"/>
<rect x="390.20" y="455.00" width="14.00" height="7.80" fill="#000" fill-opacity="0.092"/>
<rect x="407.15" y="453.90" width="16.50" height="10.00" fill="#000" fill-opacity="0.166"/>
<rect x="425.30" y="454.15" width="17.00" height="9.50" fill="#000" fill-opacity="0.160"/>
</g>
<g filter="url(#bl)">
<rect x="299.70" y="456.82" width="12.40" height="3.17" rx="1.58" fill="rgb(79,79,79)"/>
<ellipse cx="303.10" cy="458.40" rx="4.20" ry="1.80" fill="rgb(79,79,79)"/>
<ellipse cx="308.70" cy="458.40" rx="4.20" ry="1.80" fill="rgb(79,79,79)"/>
<rect x="318.25" y="456.55" width="12.90" height="3.70" rx="1.85" fill="rgb(22,22,22)"/>
<ellipse cx="321.80" cy="458.40" rx="4.35" ry="2.10" fill="rgb(22,22,22)"/>
<ellipse cx="327.60" cy="458.40" rx="4.35" ry="2.10" fill="rgb(22,22,22)"/>
<rect x="337.70" y="457.26" width="11.40" height="2.29" rx="1.14" fill="rgb(195,195,195)"/>
<ellipse cx="340.80" cy="458.40" rx="3.90" ry="1.30" fill="rgb(195,195,195)"/>
<ellipse cx="346.00" cy="458.40" rx="3.90" ry="1.30" fill="rgb(195,195,195)"/>
<rect x="355.00" y="456.82" width="12.40" height="3.17" rx="1.58" fill="rgb(110,110,110)"/>
<ellipse cx="358.40" cy="458.40" rx="4.20" ry="1.80" fill="rgb(110,110,110)"/>
<ellipse cx="364.00" cy="458.40" rx="4.20" ry="1.80" fill="rgb(110,110,110)"/>
<rect x="373.10" y="456.24" width="12.40" height="4.31" rx="2.16" fill="rgb(3,3,3)"/>
<ellipse cx="376.50" cy="458.40" rx="4.20" ry="2.45" fill="rgb(3,3,3)"/>
<ellipse cx="382.10" cy="458.40" rx="4.20" ry="2.45" fill="rgb(3,3,3)"/>
<rect x="392.00" y="457.17" width="10.40" height="2.46" rx="1.23" fill="rgb(152,152,152)"/>
<ellipse cx="394.80" cy="458.40" rx="3.60" ry="1.40" fill="rgb(152,152,152)"/>
<ellipse cx="399.60" cy="458.40" rx="3.60" ry="1.40" fill="rgb(152,152,152)"/>
<rect x="408.95" y="456.20" width="12.90" height="4.40" rx="2.20" fill="rgb(3,3,3)"/>
<ellipse cx="412.50" cy="458.40" rx="4.35" ry="2.50" fill="rgb(3,3,3)"/>
<ellipse cx="418.30" cy="458.40" rx="4.35" ry="2.50" fill="rgb(3,3,3)"/>
<rect x="427.10" y="456.42" width="13.40" height="3.96" rx="1.98" fill="rgb(12,12,12)"/>
<ellipse cx="430.80" cy="458.40" rx="4.50" ry="2.25" fill="rgb(12,12,12)"/>
<ellipse cx="436.80" cy="458.40" rx="4.50" ry="2.25" fill="rgb(12,12,12)"/>
</g>
<rect x="294.50" y="450.50" width="152.00" height="16.00" fill="none" stroke="#4a4a4a" stroke-width="1.1" />
<text x="292.00" y="461.06" font-size="6.7" text-anchor="end" font-weight="bold" fill="#000"  style="">SDHB (II)</text>
<rect x="294.30" y="471.30" width="152.60" height="15.90" fill="#f7f7f7" stroke="none" stroke-width="1" />
<rect x="294.30" y="471.30" width="152.60" height="7.15" fill="#eeeeee" stroke="none" stroke-width="1" opacity="0.6"/>
<g filter="url(#bl2)">
<rect x="297.90" y="475.50" width="16.00" height="8.00" fill="#000" fill-opacity="0.062"/>
<rect x="316.70" y="475.00" width="16.00" height="9.00" fill="#000" fill-opacity="0.098"/>
<rect x="335.90" y="476.00" width="15.00" height="7.00" fill="#000" fill-opacity="0.054"/>
<rect x="352.95" y="474.90" width="16.50" height="9.20" fill="#000" fill-opacity="0.136"/>
<rect x="370.80" y="474.20" width="17.00" height="10.60" fill="#000" fill-opacity="0.170"/>
<rect x="388.45" y="474.25" width="17.50" height="10.50" fill="#000" fill-opacity="0.170"/>
<rect x="407.65" y="475.00" width="15.50" height="9.00" fill="#000" fill-opacity="0.086"/>
<rect x="424.55" y="473.90" width="18.50" height="11.20" fill="#000" fill-opacity="0.170"/>
</g>
<g filter="url(#bl)">
<rect x="299.70" y="477.68" width="12.40" height="2.64" rx="1.32" fill="rgb(224,224,224)"/>
<ellipse cx="303.10" cy="479.00" rx="4.20" ry="1.50" fill="rgb(224,224,224)"/>
<ellipse cx="308.70" cy="479.00" rx="4.20" ry="1.50" fill="rgb(224,224,224)"/>
<rect x="318.50" y="477.24" width="12.40" height="3.52" rx="1.76" fill="rgb(138,138,138)"/>
<ellipse cx="321.90" cy="479.00" rx="4.20" ry="2.00" fill="rgb(138,138,138)"/>
<ellipse cx="327.50" cy="479.00" rx="4.20" ry="2.00" fill="rgb(138,138,138)"/>
<rect x="337.70" y="478.12" width="11.40" height="1.76" rx="0.88" fill="rgb(245,245,245)"/>
<ellipse cx="340.80" cy="479.00" rx="3.90" ry="1.00" fill="rgb(245,245,245)"/>
<ellipse cx="346.00" cy="479.00" rx="3.90" ry="1.00" fill="rgb(245,245,245)"/>
<rect x="354.75" y="477.15" width="12.90" height="3.70" rx="1.85" fill="rgb(55,55,55)"/>
<ellipse cx="358.30" cy="479.00" rx="4.35" ry="2.10" fill="rgb(55,55,55)"/>
<ellipse cx="364.10" cy="479.00" rx="4.35" ry="2.10" fill="rgb(55,55,55)"/>
<rect x="372.60" y="476.54" width="13.40" height="4.93" rx="2.46" fill="rgb(0,0,0)"/>
<ellipse cx="376.30" cy="479.00" rx="4.50" ry="2.80" fill="rgb(0,0,0)"/>
<ellipse cx="382.30" cy="479.00" rx="4.50" ry="2.80" fill="rgb(0,0,0)"/>
<rect x="390.25" y="476.58" width="13.90" height="4.84" rx="2.42" fill="rgb(0,0,0)"/>
<ellipse cx="394.10" cy="479.00" rx="4.65" ry="2.75" fill="rgb(0,0,0)"/>
<ellipse cx="400.30" cy="479.00" rx="4.65" ry="2.75" fill="rgb(0,0,0)"/>
<rect x="409.45" y="477.24" width="11.90" height="3.52" rx="1.76" fill="rgb(166,166,166)"/>
<ellipse cx="412.70" cy="479.00" rx="4.05" ry="2.00" fill="rgb(166,166,166)"/>
<ellipse cx="418.10" cy="479.00" rx="4.05" ry="2.00" fill="rgb(166,166,166)"/>
<rect x="426.35" y="476.27" width="14.90" height="5.46" rx="2.50" fill="rgb(0,0,0)"/>
<ellipse cx="430.50" cy="479.00" rx="4.95" ry="3.10" fill="rgb(0,0,0)"/>
<ellipse cx="437.10" cy="479.00" rx="4.95" ry="3.10" fill="rgb(0,0,0)"/>
</g>
<rect x="294.50" y="471.50" width="152.00" height="16.00" fill="none" stroke="#4a4a4a" stroke-width="1.1" />
<text x="292.00" y="481.66" font-size="6.7" text-anchor="end" font-weight="bold" fill="#000"  style="">QUCRC2 (III)</text>
<rect x="294.30" y="492.50" width="152.60" height="15.70" fill="#f7f7f7" stroke="none" stroke-width="1" />
<rect x="294.30" y="492.50" width="152.60" height="7.06" fill="#eeeeee" stroke="none" stroke-width="1" opacity="0.6"/>
<g filter="url(#bl2)">
<rect x="296.65" y="497.40" width="18.50" height="11.00" fill="#000" fill-opacity="0.170"/>
<rect x="316.10" y="498.10" width="17.20" height="9.60" fill="#000" fill-opacity="0.164"/>
<rect x="335.60" y="498.65" width="15.60" height="8.50" fill="#000" fill-opacity="0.122"/>
<rect x="352.95" y="497.65" width="16.50" height="10.50" fill="#000" fill-opacity="0.166"/>
<rect x="370.55" y="497.30" width="17.50" height="11.20" fill="#000" fill-opacity="0.170"/>
<rect x="390.20" y="498.65" width="14.00" height="8.50" fill="#000" fill-opacity="0.098"/>
<rect x="408.40" y="498.90" width="14.00" height="8.00" fill="#000" fill-opacity="0.092"/>
<rect x="424.80" y="497.30" width="18.00" height="11.20" fill="#000" fill-opacity="0.170"/>
</g>
<g filter="url(#bl)">
<rect x="298.45" y="499.76" width="14.90" height="5.28" rx="2.50" fill="rgb(0,0,0)"/>
<ellipse cx="302.60" cy="502.40" rx="4.95" ry="3.00" fill="rgb(0,0,0)"/>
<ellipse cx="309.20" cy="502.40" rx="4.95" ry="3.00" fill="rgb(0,0,0)"/>
<rect x="317.90" y="500.38" width="13.60" height="4.05" rx="2.02" fill="rgb(7,7,7)"/>
<ellipse cx="321.66" cy="502.40" rx="4.56" ry="2.30" fill="rgb(7,7,7)"/>
<ellipse cx="327.74" cy="502.40" rx="4.56" ry="2.30" fill="rgb(7,7,7)"/>
<rect x="337.40" y="500.86" width="12.00" height="3.08" rx="1.54" fill="rgb(84,84,84)"/>
<ellipse cx="340.68" cy="502.40" rx="4.08" ry="1.75" fill="rgb(84,84,84)"/>
<ellipse cx="346.12" cy="502.40" rx="4.08" ry="1.75" fill="rgb(84,84,84)"/>
<rect x="354.75" y="499.98" width="12.90" height="4.84" rx="2.42" fill="rgb(3,3,3)"/>
<ellipse cx="358.30" cy="502.40" rx="4.35" ry="2.75" fill="rgb(3,3,3)"/>
<ellipse cx="364.10" cy="502.40" rx="4.35" ry="2.75" fill="rgb(3,3,3)"/>
<rect x="372.35" y="499.67" width="13.90" height="5.46" rx="2.50" fill="rgb(0,0,0)"/>
<ellipse cx="376.20" cy="502.40" rx="4.65" ry="3.10" fill="rgb(0,0,0)"/>
<ellipse cx="382.40" cy="502.40" rx="4.65" ry="3.10" fill="rgb(0,0,0)"/>
<rect x="392.00" y="500.86" width="10.40" height="3.08" rx="1.54" fill="rgb(138,138,138)"/>
<ellipse cx="394.80" cy="502.40" rx="3.60" ry="1.75" fill="rgb(138,138,138)"/>
<ellipse cx="399.60" cy="502.40" rx="3.60" ry="1.75" fill="rgb(138,138,138)"/>
<rect x="410.20" y="501.08" width="10.40" height="2.64" rx="1.32" fill="rgb(152,152,152)"/>
<ellipse cx="413.00" cy="502.40" rx="3.60" ry="1.50" fill="rgb(152,152,152)"/>
<ellipse cx="417.80" cy="502.40" rx="3.60" ry="1.50" fill="rgb(152,152,152)"/>
<rect x="426.60" y="499.67" width="14.40" height="5.46" rx="2.50" fill="rgb(0,0,0)"/>
<ellipse cx="430.60" cy="502.40" rx="4.80" ry="3.10" fill="rgb(0,0,0)"/>
<ellipse cx="437.00" cy="502.40" rx="4.80" ry="3.10" fill="rgb(0,0,0)"/>
</g>
<rect x="294.50" y="492.50" width="152.00" height="16.00" fill="none" stroke="#4a4a4a" stroke-width="1.1" />
<text x="292.00" y="502.76" font-size="6.7" text-anchor="end" font-weight="bold" fill="#000"  style="">COX II (IV)</text>
<rect x="294.30" y="513.80" width="152.60" height="15.90" fill="#f7f7f7" stroke="none" stroke-width="1" />
<rect x="294.30" y="513.80" width="152.60" height="7.16" fill="#eeeeee" stroke="none" stroke-width="1" opacity="0.6"/>
<g filter="url(#bl2)">
<rect x="297.40" y="517.80" width="17.00" height="9.00" fill="#000" fill-opacity="0.110"/>
<rect x="316.45" y="516.70" width="16.50" height="11.20" fill="#000" fill-opacity="0.166"/>
<rect x="336.40" y="518.55" width="14.00" height="7.50" fill="#000" fill-opacity="0.064"/>
<rect x="352.90" y="516.70" width="16.60" height="11.20" fill="#000" fill-opacity="0.166"/>
<rect x="370.55" y="515.80" width="17.50" height="13.00" fill="#000" fill-opacity="0.170"/>
<rect x="388.20" y="515.80" width="18.00" height="13.00" fill="#000" fill-opacity="0.170"/>
<rect x="407.15" y="517.05" width="16.50" height="10.50" fill="#000" fill-opacity="0.164"/>
<rect x="425.05" y="516.30" width="17.50" height="12.00" fill="#000" fill-opacity="0.170"/>
</g>
<g filter="url(#bl)">
<rect x="299.20" y="520.04" width="13.40" height="3.52" rx="1.76" fill="rgb(110,110,110)"/>
<ellipse cx="302.90" cy="521.80" rx="4.50" ry="2.00" fill="rgb(110,110,110)"/>
<ellipse cx="308.90" cy="521.80" rx="4.50" ry="2.00" fill="rgb(110,110,110)"/>
<rect x="318.25" y="519.07" width="12.90" height="5.46" rx="2.50" fill="rgb(3,3,3)"/>
<ellipse cx="321.80" cy="521.80" rx="4.35" ry="3.10" fill="rgb(3,3,3)"/>
<ellipse cx="327.60" cy="521.80" rx="4.35" ry="3.10" fill="rgb(3,3,3)"/>
<rect x="338.20" y="520.70" width="10.40" height="2.20" rx="1.10" fill="rgb(218,218,218)"/>
<ellipse cx="341.00" cy="521.80" rx="3.60" ry="1.25" fill="rgb(218,218,218)"/>
<ellipse cx="345.80" cy="521.80" rx="3.60" ry="1.25" fill="rgb(218,218,218)"/>
<rect x="354.70" y="519.07" width="13.00" height="5.46" rx="2.50" fill="rgb(3,3,3)"/>
<ellipse cx="358.28" cy="521.80" rx="4.38" ry="3.10" fill="rgb(3,3,3)"/>
<ellipse cx="364.12" cy="521.80" rx="4.38" ry="3.10" fill="rgb(3,3,3)"/>
<rect x="372.35" y="518.28" width="13.90" height="7.04" rx="2.50" fill="rgb(0,0,0)"/>
<ellipse cx="376.20" cy="521.80" rx="4.65" ry="4.00" fill="rgb(0,0,0)"/>
<ellipse cx="382.40" cy="521.80" rx="4.65" ry="4.00" fill="rgb(0,0,0)"/>
<rect x="390.00" y="518.28" width="14.40" height="7.04" rx="2.50" fill="rgb(0,0,0)"/>
<ellipse cx="394.00" cy="521.80" rx="4.80" ry="4.00" fill="rgb(0,0,0)"/>
<ellipse cx="400.40" cy="521.80" rx="4.80" ry="4.00" fill="rgb(0,0,0)"/>
<rect x="408.95" y="519.38" width="12.90" height="4.84" rx="2.42" fill="rgb(7,7,7)"/>
<ellipse cx="412.50" cy="521.80" rx="4.35" ry="2.75" fill="rgb(7,7,7)"/>
<ellipse cx="418.30" cy="521.80" rx="4.35" ry="2.75" fill="rgb(7,7,7)"/>
<rect x="426.85" y="518.72" width="13.90" height="6.16" rx="2.50" fill="rgb(0,0,0)"/>
<ellipse cx="430.70" cy="521.80" rx="4.65" ry="3.50" fill="rgb(0,0,0)"/>
<ellipse cx="436.90" cy="521.80" rx="4.65" ry="3.50" fill="rgb(0,0,0)"/>
</g>
<rect x="294.50" y="513.50" width="152.00" height="16.00" fill="none" stroke="#4a4a4a" stroke-width="1.1" />
<text x="292.00" y="524.16" font-size="6.7" text-anchor="end" font-weight="bold" fill="#000"  style="">ATP5A (V)</text>
<rect x="294.30" y="534.90" width="152.60" height="15.90" fill="#f7f7f7" stroke="none" stroke-width="1" />
<rect x="294.30" y="534.90" width="152.60" height="7.15" fill="#eeeeee" stroke="none" stroke-width="1" opacity="0.6"/>
<g filter="url(#bl2)">
<rect x="297.15" y="540.05" width="17.50" height="9.30" fill="#000" fill-opacity="0.122"/>
<rect x="316.45" y="538.70" width="16.50" height="12.00" fill="#000" fill-opacity="0.166"/>
<rect x="335.65" y="540.20" width="15.50" height="9.00" fill="#000" fill-opacity="0.096"/>
<rect x="352.95" y="539.95" width="16.50" height="9.50" fill="#000" fill-opacity="0.132"/>
<rect x="371.30" y="539.95" width="16.00" height="9.50" fill="#000" fill-opacity="0.144"/>
<rect x="388.70" y="539.70" width="17.00" height="10.00" fill="#000" fill-opacity="0.158"/>
<rect x="407.40" y="539.95" width="16.00" height="9.50" fill="#000" fill-opacity="0.152"/>
<rect x="425.30" y="539.95" width="17.00" height="9.50" fill="#000" fill-opacity="0.152"/>
</g>
<g filter="url(#bl)">
<rect x="298.95" y="542.31" width="13.90" height="3.78" rx="1.89" fill="rgb(84,84,84)"/>
<ellipse cx="302.80" cy="544.20" rx="4.65" ry="2.15" fill="rgb(84,84,84)"/>
<ellipse cx="309.00" cy="544.20" rx="4.65" ry="2.15" fill="rgb(84,84,84)"/>
<rect x="318.25" y="541.12" width="12.90" height="6.16" rx="2.50" fill="rgb(3,3,3)"/>
<ellipse cx="321.80" cy="544.20" rx="4.35" ry="3.50" fill="rgb(3,3,3)"/>
<ellipse cx="327.60" cy="544.20" rx="4.35" ry="3.50" fill="rgb(3,3,3)"/>
<rect x="337.45" y="542.44" width="11.90" height="3.52" rx="1.76" fill="rgb(143,143,143)"/>
<ellipse cx="340.70" cy="544.20" rx="4.05" ry="2.00" fill="rgb(143,143,143)"/>
<ellipse cx="346.10" cy="544.20" rx="4.05" ry="2.00" fill="rgb(143,143,143)"/>
<rect x="354.75" y="542.22" width="12.90" height="3.96" rx="1.98" fill="rgb(64,64,64)"/>
<ellipse cx="358.30" cy="544.20" rx="4.35" ry="2.25" fill="rgb(64,64,64)"/>
<ellipse cx="364.10" cy="544.20" rx="4.35" ry="2.25" fill="rgb(64,64,64)"/>
<rect x="373.10" y="542.22" width="12.40" height="3.96" rx="1.98" fill="rgb(41,41,41)"/>
<ellipse cx="376.50" cy="544.20" rx="4.20" ry="2.25" fill="rgb(41,41,41)"/>
<ellipse cx="382.10" cy="544.20" rx="4.20" ry="2.25" fill="rgb(41,41,41)"/>
<rect x="390.50" y="542.00" width="13.40" height="4.40" rx="2.20" fill="rgb(16,16,16)"/>
<ellipse cx="394.20" cy="544.20" rx="4.50" ry="2.50" fill="rgb(16,16,16)"/>
<ellipse cx="400.20" cy="544.20" rx="4.50" ry="2.50" fill="rgb(16,16,16)"/>
<rect x="409.20" y="542.22" width="12.40" height="3.96" rx="1.98" fill="rgb(26,26,26)"/>
<ellipse cx="412.60" cy="544.20" rx="4.20" ry="2.25" fill="rgb(26,26,26)"/>
<ellipse cx="418.20" cy="544.20" rx="4.20" ry="2.25" fill="rgb(26,26,26)"/>
<rect x="427.10" y="542.22" width="13.40" height="3.96" rx="1.98" fill="rgb(26,26,26)"/>
<ellipse cx="430.80" cy="544.20" rx="4.50" ry="2.25" fill="rgb(26,26,26)"/>
<ellipse cx="436.80" cy="544.20" rx="4.50" ry="2.25" fill="rgb(26,26,26)"/>
</g>
<rect x="294.50" y="534.50" width="152.00" height="16.00" fill="none" stroke="#4a4a4a" stroke-width="1.1" />
<text x="292.00" y="541.61" font-size="6.7" text-anchor="end" font-weight="bold" fill="#000"  style="">TOMM20</text>
<text x="292.00" y="549.91" font-size="6.7" text-anchor="end" font-weight="bold" fill="#000"  style="">(Import)</text>
<rect x="294.30" y="555.90" width="152.60" height="15.90" fill="#f7f7f7" stroke="none" stroke-width="1" />
<rect x="294.30" y="555.90" width="152.60" height="7.15" fill="#eeeeee" stroke="none" stroke-width="1" opacity="0.6"/>
<g filter="url(#bl2)">
<rect x="295.90" y="557.10" width="20.00" height="11.80" fill="#000" fill-opacity="0.170"/>
<rect x="316.20" y="559.00" width="17.00" height="8.00" fill="#000" fill-opacity="0.146"/>
<rect x="334.65" y="558.65" width="17.50" height="8.70" fill="#000" fill-opacity="0.156"/>
<rect x="353.05" y="558.75" width="16.30" height="8.50" fill="#000" fill-opacity="0.148"/>
<rect x="371.30" y="559.00" width="16.00" height="8.00" fill="#000" fill-opacity="0.134"/>
<rect x="389.70" y="559.10" width="15.00" height="7.80" fill="#000" fill-opacity="0.116"/>
<rect x="407.40" y="558.75" width="16.00" height="8.50" fill="#000" fill-opacity="0.146"/>
<rect x="424.80" y="558.25" width="18.00" height="9.50" fill="#000" fill-opacity="0.164"/>
</g>
<g filter="url(#bl)">
<rect x="297.70" y="559.51" width="16.40" height="5.98" rx="2.50" fill="rgb(0,0,0)"/>
<ellipse cx="302.30" cy="562.50" rx="5.40" ry="3.40" fill="rgb(0,0,0)"/>
<ellipse cx="309.50" cy="562.50" rx="5.40" ry="3.40" fill="rgb(0,0,0)"/>
<rect x="318.00" y="561.18" width="13.40" height="2.64" rx="1.32" fill="rgb(36,36,36)"/>
<ellipse cx="321.70" cy="562.50" rx="4.50" ry="1.50" fill="rgb(36,36,36)"/>
<ellipse cx="327.70" cy="562.50" rx="4.50" ry="1.50" fill="rgb(36,36,36)"/>
<rect x="336.45" y="560.87" width="13.90" height="3.26" rx="1.63" fill="rgb(20,20,20)"/>
<ellipse cx="340.30" cy="562.50" rx="4.65" ry="1.85" fill="rgb(20,20,20)"/>
<ellipse cx="346.50" cy="562.50" rx="4.65" ry="1.85" fill="rgb(20,20,20)"/>
<rect x="354.85" y="560.96" width="12.70" height="3.08" rx="1.54" fill="rgb(32,32,32)"/>
<ellipse cx="358.34" cy="562.50" rx="4.29" ry="1.75" fill="rgb(32,32,32)"/>
<ellipse cx="364.06" cy="562.50" rx="4.29" ry="1.75" fill="rgb(32,32,32)"/>
<rect x="373.10" y="561.18" width="12.40" height="2.64" rx="1.32" fill="rgb(60,60,60)"/>
<ellipse cx="376.50" cy="562.50" rx="4.20" ry="1.50" fill="rgb(60,60,60)"/>
<ellipse cx="382.10" cy="562.50" rx="4.20" ry="1.50" fill="rgb(60,60,60)"/>
<rect x="391.50" y="561.27" width="11.40" height="2.46" rx="1.23" fill="rgb(97,97,97)"/>
<ellipse cx="394.60" cy="562.50" rx="3.90" ry="1.40" fill="rgb(97,97,97)"/>
<ellipse cx="399.80" cy="562.50" rx="3.90" ry="1.40" fill="rgb(97,97,97)"/>
<rect x="409.20" y="560.96" width="12.40" height="3.08" rx="1.54" fill="rgb(36,36,36)"/>
<ellipse cx="412.60" cy="562.50" rx="4.20" ry="1.75" fill="rgb(36,36,36)"/>
<ellipse cx="418.20" cy="562.50" rx="4.20" ry="1.75" fill="rgb(36,36,36)"/>
<rect x="426.60" y="560.52" width="14.40" height="3.96" rx="1.98" fill="rgb(7,7,7)"/>
<ellipse cx="430.60" cy="562.50" rx="4.80" ry="2.25" fill="rgb(7,7,7)"/>
<ellipse cx="437.00" cy="562.50" rx="4.80" ry="2.25" fill="rgb(7,7,7)"/>
</g>
<rect x="294.50" y="555.50" width="152.00" height="16.00" fill="none" stroke="#4a4a4a" stroke-width="1.1" />
<text x="292.00" y="566.26" font-size="6.7" text-anchor="end" font-weight="bold" fill="#000"  style="">Actin</text>
<text x="557.40" y="413.14" font-size="10.4" text-anchor="middle" font-weight="bold" fill="#000" textLength="114.2" lengthAdjust="spacingAndGlyphs" style="">Mitochondrial proteins</text>
<rect x="493.20" y="423.90" width="10.30" height="4.80" fill="#000000" stroke="#222" stroke-width="0.7" />
<text x="508.10" y="428.71" font-size="6.7" text-anchor="start" font-weight="bold" fill="#000"  style="">NDUFB8 (I)</text>
<rect x="493.20" y="431.70" width="10.30" height="4.80" fill="#5c5c5c" stroke="#222" stroke-width="0.7" />
<text x="508.10" y="436.51" font-size="6.7" text-anchor="start" font-weight="bold" fill="#000"  style="">SDHB (II)</text>
<rect x="493.20" y="440.60" width="10.30" height="4.80" fill="#777777" stroke="#222" stroke-width="0.7" />
<text x="508.10" y="445.41" font-size="6.7" text-anchor="start" font-weight="bold" fill="#000"  style="">QUCRC2 (III)</text>
<rect x="558.50" y="423.90" width="10.30" height="4.80" fill="#9c9ca2" stroke="#222" stroke-width="0.7" />
<text x="572.60" y="428.71" font-size="6.7" text-anchor="start" font-weight="bold" fill="#000"  style="">COX II (IV)</text>
<rect x="558.50" y="431.70" width="10.30" height="4.80" fill="#cbcbcb" stroke="#222" stroke-width="0.7" />
<text x="572.60" y="436.51" font-size="6.7" text-anchor="start" font-weight="bold" fill="#000"  style="">ATP5A (V)</text>
<rect x="558.50" y="440.60" width="10.30" height="4.80" fill="#ebebeb" stroke="#222" stroke-width="0.7" />
<text x="572.60" y="445.41" font-size="6.7" text-anchor="start" font-weight="bold" fill="#000"  style="">TOMM20 (Import)</text>
<line x1="490.50" y1="456.20" x2="490.50" y2="546.70" stroke="#000" stroke-width="1.4" />
<line x1="490.00" y1="546.50" x2="627.00" y2="546.50" stroke="#000" stroke-width="1.4" />
<line x1="487.50" y1="546.20" x2="490.50" y2="546.20" stroke="#000" stroke-width="0.9" />
<text x="486.30" y="548.58" font-size="6.6" text-anchor="end" font-weight="bold" fill="#000"  style="">0</text>
<line x1="487.50" y1="531.26" x2="490.50" y2="531.26" stroke="#000" stroke-width="0.9" />
<text x="486.30" y="533.64" font-size="6.6" text-anchor="end" font-weight="bold" fill="#000"  style="">2</text>
<line x1="487.50" y1="516.32" x2="490.50" y2="516.32" stroke="#000" stroke-width="0.9" />
<text x="486.30" y="518.70" font-size="6.6" text-anchor="end" font-weight="bold" fill="#000"  style="">4</text>
<line x1="487.50" y1="501.38" x2="490.50" y2="501.38" stroke="#000" stroke-width="0.9" />
<text x="486.30" y="503.76" font-size="6.6" text-anchor="end" font-weight="bold" fill="#000"  style="">6</text>
<line x1="487.50" y1="486.44" x2="490.50" y2="486.44" stroke="#000" stroke-width="0.9" />
<text x="486.30" y="488.82" font-size="6.6" text-anchor="end" font-weight="bold" fill="#000"  style="">8</text>
<line x1="487.50" y1="471.50" x2="490.50" y2="471.50" stroke="#000" stroke-width="0.9" />
<text x="486.30" y="473.88" font-size="6.6" text-anchor="end" font-weight="bold" fill="#000"  style="">10</text>
<line x1="487.50" y1="456.56" x2="490.50" y2="456.56" stroke="#000" stroke-width="0.9" />
<text x="486.30" y="458.94" font-size="6.6" text-anchor="end" font-weight="bold" fill="#000"  style="">12</text>
<line x1="491.50" y1="501.38" x2="627.00" y2="501.38" stroke="#bbb" stroke-width="0.6" stroke-dasharray="1 2"/>
<text x="0" y="0" font-size="7.9" font-weight="bold" text-anchor="middle" transform="translate(465.6 501.6) rotate(-90)" textLength="114.7" lengthAdjust="spacingAndGlyphs">Protein abundance normalized</text>
<text x="0" y="0" font-size="7.9" font-weight="bold" text-anchor="middle" transform="translate(475.6 501.7) rotate(-90)" textLength="78" lengthAdjust="spacingAndGlyphs">to the average levels</text>
<rect x="497.50" y="540.50" width="12.00" height="6.00" fill="#000000" stroke="#111" stroke-width="0.8" />
<rect x="497.50" y="534.50" width="12.00" height="6.00" fill="#5c5c5c" stroke="#111" stroke-width="0.8" />
<rect x="497.50" y="533.50" width="12.00" height="1.00" fill="#777777" stroke="#111" stroke-width="0.8" />
<rect x="497.50" y="523.50" width="12.00" height="10.00" fill="#9c9ca2" stroke="#111" stroke-width="0.8" />
<rect x="497.50" y="521.50" width="12.00" height="2.00" fill="#cbcbcb" stroke="#111" stroke-width="0.8" />
<rect x="497.50" y="516.50" width="12.00" height="5.00" fill="#ebebeb" stroke="#111" stroke-width="0.8" />
<rect x="497.50" y="516.50" width="12.00" height="30.00" fill="none" stroke="#111" stroke-width="1.0" />
<line x1="503.60" y1="546.20" x2="503.60" y2="548.60" stroke="#000" stroke-width="0.9" />
<text x="505.40" y="555.30" font-size="6.6" text-anchor="end" font-weight="bold" transform="rotate(-45 505.40 555.30)" >SW480</text>
<rect x="513.50" y="533.50" width="12.00" height="13.00" fill="#000000" stroke="#111" stroke-width="0.8" />
<rect x="513.50" y="529.50" width="12.00" height="4.00" fill="#5c5c5c" stroke="#111" stroke-width="0.8" />
<rect x="513.50" y="523.50" width="12.00" height="6.00" fill="#777777" stroke="#111" stroke-width="0.8" />
<rect x="513.50" y="514.50" width="12.00" height="9.00" fill="#9c9ca2" stroke="#111" stroke-width="0.8" />
<rect x="513.50" y="508.50" width="12.00" height="6.00" fill="#cbcbcb" stroke="#111" stroke-width="0.8" />
<rect x="513.50" y="502.50" width="12.00" height="6.00" fill="#ebebeb" stroke="#111" stroke-width="0.8" />
<rect x="513.50" y="502.50" width="12.00" height="44.00" fill="none" stroke="#111" stroke-width="1.0" />
<line x1="519.30" y1="546.20" x2="519.30" y2="548.60" stroke="#000" stroke-width="0.9" />
<text x="521.10" y="555.30" font-size="6.6" text-anchor="end" font-weight="bold" transform="rotate(-45 521.10 555.30)" >SW1417</text>
<rect x="529.50" y="542.50" width="12.00" height="4.00" fill="#000000" stroke="#111" stroke-width="0.8" />
<rect x="529.50" y="541.50" width="12.00" height="1.00" fill="#5c5c5c" stroke="#111" stroke-width="0.8" />
<rect x="529.50" y="541.50" width="12.00" height="0.37" fill="#777777" stroke="#111" stroke-width="0.8" />
<rect x="529.50" y="537.50" width="12.00" height="4.00" fill="#9c9ca2" stroke="#111" stroke-width="0.8" />
<rect x="529.50" y="537.50" width="12.00" height="0.52" fill="#cbcbcb" stroke="#111" stroke-width="0.8" />
<rect x="529.50" y="532.50" width="12.00" height="5.00" fill="#ebebeb" stroke="#111" stroke-width="0.8" />
<rect x="529.50" y="532.50" width="12.00" height="14.00" fill="none" stroke="#111" stroke-width="1.0" />
<line x1="535.40" y1="546.20" x2="535.40" y2="548.60" stroke="#000" stroke-width="0.9" />
<text x="537.20" y="555.30" font-size="6.6" text-anchor="end" font-weight="bold" transform="rotate(-45 537.20 555.30)" >LS123</text>
<rect x="545.50" y="541.50" width="11.00" height="5.00" fill="#000000" stroke="#111" stroke-width="0.8" />
<rect x="545.50" y="530.50" width="11.00" height="11.00" fill="#5c5c5c" stroke="#111" stroke-width="0.8" />
<rect x="545.50" y="516.50" width="11.00" height="14.00" fill="#777777" stroke="#111" stroke-width="0.8" />
<rect x="545.50" y="503.50" width="11.00" height="13.00" fill="#9c9ca2" stroke="#111" stroke-width="0.8" />
<rect x="545.50" y="495.50" width="11.00" height="8.00" fill="#cbcbcb" stroke="#111" stroke-width="0.8" />
<rect x="545.50" y="486.50" width="11.00" height="9.00" fill="#ebebeb" stroke="#111" stroke-width="0.8" />
<rect x="545.50" y="486.50" width="11.00" height="60.00" fill="none" stroke="#111" stroke-width="1.0" />
<line x1="550.80" y1="546.20" x2="550.80" y2="548.60" stroke="#000" stroke-width="0.9" />
<text x="552.60" y="555.30" font-size="6.6" text-anchor="end" font-weight="bold" transform="rotate(-45 552.60 555.30)" >SW403</text>
<rect x="561.50" y="540.50" width="11.00" height="6.00" fill="#000000" stroke="#111" stroke-width="0.8" />
<rect x="561.50" y="533.50" width="11.00" height="7.00" fill="#5c5c5c" stroke="#111" stroke-width="0.8" />
<rect x="561.50" y="530.50" width="11.00" height="3.00" fill="#777777" stroke="#111" stroke-width="0.8" />
<rect x="561.50" y="524.50" width="11.00" height="6.00" fill="#9c9ca2" stroke="#111" stroke-width="0.8" />
<rect x="561.50" y="518.50" width="11.00" height="6.00" fill="#cbcbcb" stroke="#111" stroke-width="0.8" />
<rect x="561.50" y="508.50" width="11.00" height="10.00" fill="#ebebeb" stroke="#111" stroke-width="0.8" />
<rect x="561.50" y="508.50" width="11.00" height="38.00" fill="none" stroke="#111" stroke-width="1.0" />
<line x1="566.90" y1="546.20" x2="566.90" y2="548.60" stroke="#000" stroke-width="0.9" />
<text x="568.70" y="555.30" font-size="6.6" text-anchor="end" font-weight="bold" transform="rotate(-45 568.70 555.30)" >SW620</text>
<rect x="576.50" y="538.50" width="12.00" height="8.00" fill="#000000" stroke="#111" stroke-width="0.8" />
<rect x="576.50" y="525.50" width="12.00" height="13.00" fill="#5c5c5c" stroke="#111" stroke-width="0.8" />
<rect x="576.50" y="511.50" width="12.00" height="14.00" fill="#777777" stroke="#111" stroke-width="0.8" />
<rect x="576.50" y="498.50" width="12.00" height="13.00" fill="#9c9ca2" stroke="#111" stroke-width="0.8" />
<rect x="576.50" y="483.50" width="12.00" height="15.00" fill="#cbcbcb" stroke="#111" stroke-width="0.8" />
<rect x="576.50" y="475.50" width="12.00" height="8.00" fill="#ebebeb" stroke="#111" stroke-width="0.8" />
<rect x="576.50" y="475.50" width="12.00" height="71.00" fill="none" stroke="#111" stroke-width="1.0" />
<line x1="582.60" y1="546.20" x2="582.60" y2="548.60" stroke="#000" stroke-width="0.9" />
<text x="584.40" y="555.30" font-size="6.6" text-anchor="end" font-weight="bold" transform="rotate(-45 584.40 555.30)" >SW48</text>
<rect x="593.50" y="534.50" width="11.00" height="12.00" fill="#000000" stroke="#111" stroke-width="0.8" />
<rect x="593.50" y="531.50" width="11.00" height="3.00" fill="#5c5c5c" stroke="#111" stroke-width="0.8" />
<rect x="593.50" y="514.50" width="11.00" height="17.00" fill="#777777" stroke="#111" stroke-width="0.8" />
<rect x="593.50" y="511.50" width="11.00" height="3.00" fill="#9c9ca2" stroke="#111" stroke-width="0.8" />
<rect x="593.50" y="496.50" width="11.00" height="15.00" fill="#cbcbcb" stroke="#111" stroke-width="0.8" />
<rect x="593.50" y="486.50" width="11.00" height="10.00" fill="#ebebeb" stroke="#111" stroke-width="0.8" />
<rect x="593.50" y="486.50" width="11.00" height="60.00" fill="none" stroke="#ff0000" stroke-width="1.7" />
<line x1="598.90" y1="546.20" x2="598.90" y2="548.60" stroke="#000" stroke-width="0.9" />
<text x="600.70" y="555.30" font-size="6.6" text-anchor="end" font-weight="bold" transform="rotate(-45 600.70 555.30)" >COLO-320</text>
<rect x="609.50" y="542.50" width="11.00" height="4.00" fill="#000000" stroke="#111" stroke-width="0.8" />
<rect x="609.50" y="529.50" width="11.00" height="13.00" fill="#5c5c5c" stroke="#111" stroke-width="0.8" />
<rect x="609.50" y="524.50" width="11.00" height="5.00" fill="#777777" stroke="#111" stroke-width="0.8" />
<rect x="609.50" y="522.50" width="11.00" height="2.00" fill="#9c9ca2" stroke="#111" stroke-width="0.8" />
<rect x="609.50" y="515.50" width="11.00" height="7.00" fill="#cbcbcb" stroke="#111" stroke-width="0.8" />
<rect x="609.50" y="508.50" width="11.00" height="7.00" fill="#ebebeb" stroke="#111" stroke-width="0.8" />
<rect x="609.50" y="508.50" width="11.00" height="38.00" fill="none" stroke="#ff0000" stroke-width="1.7" />
<line x1="614.80" y1="546.20" x2="614.80" y2="548.60" stroke="#000" stroke-width="0.9" />
<text x="616.60" y="555.30" font-size="6.6" text-anchor="end" font-weight="bold" transform="rotate(-45 616.60 555.30)" >HCT-15</text>
<text x="0.10" y="605.40" font-size="16" text-anchor="start" font-weight="bold" fill="#000"  style="">G</text>
<path d="M24.70,673.10 L24.70,672.60 L29.20,671.70 L32.90,668.10 L35.60,660.90 L37.40,648.20 L39.20,633.70 L40.60,625.60 L41.60,624.70 L42.50,628.30 L43.40,637.30 L44.60,653.60 L45.90,664.50 L47.30,670.80 L48.80,672.60 L48.80,673.10 Z" fill="#3c3c3c" stroke="none" stroke-width="0" stroke-linejoin="round" fill-opacity="0.52"/>
<path d="M51.00,673.10 L51.00,672.60 L52.40,668.10 L53.70,657.30 L54.90,641.00 L56.00,628.30 L56.90,624.70 L57.70,626.50 L58.60,637.30 L60.00,655.40 L61.50,666.30 L63.30,671.70 L65.40,672.60 L65.40,673.10 Z" fill="#3c3c3c" stroke="none" stroke-width="0" stroke-linejoin="round" fill-opacity="0.52"/>
<path d="M24.70,673.10 L24.70,672.60 L29.20,671.70 L32.90,668.10 L35.60,660.90 L37.40,648.20 L39.20,633.70 L40.60,625.60 L41.60,624.70 L42.50,628.30 L43.40,637.30 L44.60,653.60 L45.90,664.50 L47.30,670.80 L48.80,672.60 L48.80,673.10 Z" fill="none" stroke="#333" stroke-width="0.5" stroke-linejoin="round" />
<path d="M51.00,673.10 L51.00,672.60 L52.40,668.10 L53.70,657.30 L54.90,641.00 L56.00,628.30 L56.90,624.70 L57.70,626.50 L58.60,637.30 L60.00,655.40 L61.50,666.30 L63.30,671.70 L65.40,672.60 L65.40,673.10 Z" fill="none" stroke="#333" stroke-width="0.5" stroke-linejoin="round" />
<rect x="24.50" y="616.50" width="58.00" height="57.00" fill="none" stroke="#222" stroke-width="0.9" />
<text x="53.20" y="613.28" font-size="8.0" text-anchor="middle" font-weight="bold" fill="#000"  style="">SW480</text>
<text x="49.20" y="622.57" font-size="5.2" text-anchor="middle" font-weight="bold" fill="#000" textLength="13.8" lengthAdjust="spacingAndGlyphs" style="">10.42</text>
<line x1="56.40" y1="627.40" x2="45.30" y2="627.40" stroke="#000" stroke-width="0.9" />
<polygon points="42.80,627.40 46.00,625.70 46.00,629.10" fill="#000"/>
<text x="40.10" y="671.27" font-size="5.2" text-anchor="middle" font-weight="bold" fill="#000"  style="">D4</text>
<text x="56.80" y="671.27" font-size="5.2" text-anchor="middle" font-weight="bold" fill="#000"  style="">D1</text>
<text x="26.30" y="678.76" font-size="4.6" font-weight="bold" text-anchor="middle">10<tspan font-size="2.99" dy="-1.84">1</tspan></text>
<text x="42.20" y="678.76" font-size="4.6" font-weight="bold" text-anchor="middle">10<tspan font-size="2.99" dy="-1.84">2</tspan></text>
<text x="59.30" y="678.76" font-size="4.6" font-weight="bold" text-anchor="middle">10<tspan font-size="2.99" dy="-1.84">3</tspan></text>
<text x="75.30" y="678.76" font-size="4.6" font-weight="bold" text-anchor="middle">10<tspan font-size="2.99" dy="-1.84">4</tspan></text>
<path d="M90.80,673.10 L90.80,672.60 L96.20,670.80 L99.80,666.30 L102.60,657.30 L104.40,642.80 L105.80,630.10 L107.10,624.70 L108.20,626.50 L109.40,635.50 L110.70,646.40 L112.00,655.40 L113.40,663.60 L115.20,669.90 L117.90,672.60 L117.90,673.10 Z" fill="#3c3c3c" stroke="none" stroke-width="0" stroke-linejoin="round" fill-opacity="0.52"/>
<path d="M113.40,673.10 L113.40,672.60 L114.70,666.30 L115.80,659.10 L117.00,658.20 L117.90,651.80 L119.20,639.20 L120.30,628.30 L121.60,623.80 L122.50,625.60 L123.40,635.50 L124.60,650.00 L126.10,662.70 L127.90,669.90 L130.60,672.60 L130.60,673.10 Z" fill="#3c3c3c" stroke="none" stroke-width="0" stroke-linejoin="round" fill-opacity="0.52"/>
<path d="M90.80,673.10 L90.80,672.60 L96.20,670.80 L99.80,666.30 L102.60,657.30 L104.40,642.80 L105.80,630.10 L107.10,624.70 L108.20,626.50 L109.40,635.50 L110.70,646.40 L112.00,655.40 L113.40,663.60 L115.20,669.90 L117.90,672.60 L117.90,673.10 Z" fill="none" stroke="#333" stroke-width="0.5" stroke-linejoin="round" />
<path d="M113.40,673.10 L113.40,672.60 L114.70,666.30 L115.80,659.10 L117.00,658.20 L117.90,651.80 L119.20,639.20 L120.30,628.30 L121.60,623.80 L122.50,625.60 L123.40,635.50 L124.60,650.00 L126.10,662.70 L127.90,669.90 L130.60,672.60 L130.60,673.10 Z" fill="none" stroke="#333" stroke-width="0.5" stroke-linejoin="round" />
<rect x="86.50" y="616.50" width="58.00" height="57.00" fill="none" stroke="#222" stroke-width="0.9" />
<text x="115.60" y="613.28" font-size="8.0" text-anchor="middle" font-weight="bold" fill="#000"  style="">SW1417</text>
<text x="115.80" y="622.57" font-size="5.2" text-anchor="middle" font-weight="bold" fill="#000" textLength="11.0" lengthAdjust="spacingAndGlyphs" style="">6.29</text>
<line x1="118.90" y1="627.40" x2="112.30" y2="627.40" stroke="#000" stroke-width="0.9" />
<polygon points="109.80,627.40 113.00,625.70 113.00,629.10" fill="#000"/>
<text x="106.20" y="671.27" font-size="5.2" text-anchor="middle" font-weight="bold" fill="#000"  style="">D4</text>
<text x="122.50" y="671.27" font-size="5.2" text-anchor="middle" font-weight="bold" fill="#000"  style="">D1</text>
<text x="88.90" y="678.76" font-size="4.6" font-weight="bold" text-anchor="middle">10<tspan font-size="2.99" dy="-1.84">1</tspan></text>
<text x="104.70" y="678.76" font-size="4.6" font-weight="bold" text-anchor="middle">10<tspan font-size="2.99" dy="-1.84">2</tspan></text>
<text x="121.90" y="678.76" font-size="4.6" font-weight="bold" text-anchor="middle">10<tspan font-size="2.99" dy="-1.84">3</tspan></text>
<text x="137.90" y="678.76" font-size="4.6" font-weight="bold" text-anchor="middle">10<tspan font-size="2.99" dy="-1.84">4</tspan></text>
<path d="M162.60,673.10 L162.60,673.10 L165.30,667.20 L167.70,658.00 L169.50,646.90 L170.80,637.70 L172.10,630.40 L173.20,629.50 L174.50,634.10 L175.80,644.20 L177.30,650.60 L178.70,655.20 L180.00,659.80 L181.30,667.20 L182.80,673.10 L182.80,673.10 Z" fill="#3c3c3c" stroke="none" stroke-width="0" stroke-linejoin="round" fill-opacity="0.52"/>
<path d="M178.20,673.10 L178.20,673.10 L179.50,665.30 L180.60,654.30 L181.50,641.40 L182.40,632.20 L183.70,625.80 L185.00,622.70 L185.90,624.90 L186.80,634.10 L187.90,646.90 L189.20,659.80 L191.10,669.00 L193.50,673.10 L193.50,673.10 Z" fill="#3c3c3c" stroke="none" stroke-width="0" stroke-linejoin="round" fill-opacity="0.52"/>
<path d="M162.60,673.10 L162.60,673.10 L165.30,667.20 L167.70,658.00 L169.50,646.90 L170.80,637.70 L172.10,630.40 L173.20,629.50 L174.50,634.10 L175.80,644.20 L177.30,650.60 L178.70,655.20 L180.00,659.80 L181.30,667.20 L182.80,673.10 L182.80,673.10 Z" fill="none" stroke="#333" stroke-width="0.5" stroke-linejoin="round" />
<path d="M178.20,673.10 L178.20,673.10 L179.50,665.30 L180.60,654.30 L181.50,641.40 L182.40,632.20 L183.70,625.80 L185.00,622.70 L185.90,624.90 L186.80,634.10 L187.90,646.90 L189.20,659.80 L191.10,669.00 L193.50,673.10 L193.50,673.10 Z" fill="none" stroke="#333" stroke-width="0.5" stroke-linejoin="round" />
<rect x="149.50" y="616.50" width="57.00" height="57.00" fill="none" stroke="#222" stroke-width="0.9" />
<text x="177.90" y="613.28" font-size="8.0" text-anchor="middle" font-weight="bold" fill="#000"  style="">LS123</text>
<text x="177.60" y="622.17" font-size="5.2" text-anchor="middle" font-weight="bold" fill="#000" textLength="11.0" lengthAdjust="spacingAndGlyphs" style="">4.47</text>
<line x1="181.90" y1="628.60" x2="176.10" y2="628.60" stroke="#000" stroke-width="0.9" />
<polygon points="173.60,628.60 176.80,626.90 176.80,630.30" fill="#000"/>
<text x="172.70" y="669.27" font-size="5.2" text-anchor="middle" font-weight="bold" fill="#000"  style="">D4</text>
<text x="186.10" y="669.27" font-size="5.2" text-anchor="middle" font-weight="bold" fill="#000"  style="">D1</text>
<text x="150.90" y="678.76" font-size="4.6" font-weight="bold" text-anchor="middle">10<tspan font-size="2.99" dy="-1.84">1</tspan></text>
<text x="166.70" y="678.76" font-size="4.6" font-weight="bold" text-anchor="middle">10<tspan font-size="2.99" dy="-1.84">2</tspan></text>
<text x="184.30" y="678.76" font-size="4.6" font-weight="bold" text-anchor="middle">10<tspan font-size="2.99" dy="-1.84">3</tspan></text>
<text x="199.80" y="678.76" font-size="4.6" font-weight="bold" text-anchor="middle">10<tspan font-size="2.99" dy="-1.84">4</tspan></text>
<path d="M225.10,673.10 L225.10,673.10 L227.80,669.00 L229.70,661.70 L231.00,648.80 L232.10,635.90 L233.40,625.80 L234.30,623.40 L235.40,626.70 L236.70,635.90 L238.00,648.80 L239.40,659.80 L241.30,668.10 L243.50,673.10 L243.50,673.10 Z" fill="#3c3c3c" stroke="none" stroke-width="0" stroke-linejoin="round" fill-opacity="0.52"/>
<path d="M242.60,673.10 L242.60,673.10 L243.80,667.20 L244.90,656.10 L245.90,643.30 L246.80,632.20 L247.70,626.70 L248.40,624.00 L249.00,625.80 L249.90,634.10 L250.80,646.90 L252.10,659.80 L253.60,669.00 L255.40,673.10 L255.40,673.10 Z" fill="#3c3c3c" stroke="none" stroke-width="0" stroke-linejoin="round" fill-opacity="0.52"/>
<path d="M225.10,673.10 L225.10,673.10 L227.80,669.00 L229.70,661.70 L231.00,648.80 L232.10,635.90 L233.40,625.80 L234.30,623.40 L235.40,626.70 L236.70,635.90 L238.00,648.80 L239.40,659.80 L241.30,668.10 L243.50,673.10 L243.50,673.10 Z" fill="none" stroke="#333" stroke-width="0.5" stroke-linejoin="round" />
<path d="M242.60,673.10 L242.60,673.10 L243.80,667.20 L244.90,656.10 L245.90,643.30 L246.80,632.20 L247.70,626.70 L248.40,624.00 L249.00,625.80 L249.90,634.10 L250.80,646.90 L252.10,659.80 L253.60,669.00 L255.40,673.10 L255.40,673.10 Z" fill="none" stroke="#333" stroke-width="0.5" stroke-linejoin="round" />
<rect x="211.50" y="616.50" width="58.00" height="57.00" fill="none" stroke="#222" stroke-width="0.9" />
<text x="240.20" y="613.28" font-size="8.0" text-anchor="middle" font-weight="bold" fill="#000"  style="">SW403</text>
<text x="239.80" y="622.17" font-size="5.2" text-anchor="middle" font-weight="bold" fill="#000" textLength="11.0" lengthAdjust="spacingAndGlyphs" style="">6.24</text>
<line x1="246.20" y1="627.60" x2="238.60" y2="627.60" stroke="#000" stroke-width="0.9" />
<polygon points="236.10,627.60 239.30,625.90 239.30,629.30" fill="#000"/>
<text x="234.30" y="671.27" font-size="5.2" text-anchor="middle" font-weight="bold" fill="#000"  style="">D4</text>
<text x="248.10" y="671.27" font-size="5.2" text-anchor="middle" font-weight="bold" fill="#000"  style="">D1</text>
<text x="213.60" y="678.76" font-size="4.6" font-weight="bold" text-anchor="middle">10<tspan font-size="2.99" dy="-1.84">1</tspan></text>
<text x="229.40" y="678.76" font-size="4.6" font-weight="bold" text-anchor="middle">10<tspan font-size="2.99" dy="-1.84">2</tspan></text>
<text x="246.10" y="678.76" font-size="4.6" font-weight="bold" text-anchor="middle">10<tspan font-size="2.99" dy="-1.84">3</tspan></text>
<text x="261.70" y="678.76" font-size="4.6" font-weight="bold" text-anchor="middle">10<tspan font-size="2.99" dy="-1.84">4</tspan></text>
<path d="M24.70,752.10 L24.70,752.00 L24.90,747.50 L27.00,742.00 L29.00,733.00 L31.00,723.00 L32.50,715.00 L33.40,711.50 L34.50,712.50 L35.50,708.00 L36.30,706.50 L37.00,710.00 L38.00,715.00 L39.30,722.00 L40.50,732.00 L41.50,740.00 L43.00,746.50 L45.00,750.50 L47.00,752.00 L47.00,752.10 Z" fill="#3c3c3c" stroke="none" stroke-width="0" stroke-linejoin="round" fill-opacity="0.52"/>
<path d="M51.50,752.10 L51.50,751.80 L52.60,745.70 L53.60,732.60 L54.70,719.40 L55.80,712.80 L56.90,713.90 L58.00,723.80 L59.10,739.10 L60.20,747.90 L61.70,751.80 L61.70,752.10 Z" fill="#3c3c3c" stroke="none" stroke-width="0" stroke-linejoin="round" fill-opacity="0.52"/>
<path d="M24.70,752.10 L24.70,752.00 L24.90,747.50 L27.00,742.00 L29.00,733.00 L31.00,723.00 L32.50,715.00 L33.40,711.50 L34.50,712.50 L35.50,708.00 L36.30,706.50 L37.00,710.00 L38.00,715.00 L39.30,722.00 L40.50,732.00 L41.50,740.00 L43.00,746.50 L45.00,750.50 L47.00,752.00 L47.00,752.10 Z" fill="none" stroke="#333" stroke-width="0.5" stroke-linejoin="round" />
<path d="M51.50,752.10 L51.50,751.80 L52.60,745.70 L53.60,732.60 L54.70,719.40 L55.80,712.80 L56.90,713.90 L58.00,723.80 L59.10,739.10 L60.20,747.90 L61.70,751.80 L61.70,752.10 Z" fill="none" stroke="#333" stroke-width="0.5" stroke-linejoin="round" />
<rect x="24.50" y="695.50" width="58.00" height="57.00" fill="none" stroke="#222" stroke-width="0.9" />
<text x="53.20" y="692.38" font-size="8.0" text-anchor="middle" font-weight="bold" fill="#000"  style="">SW620</text>
<text x="48.20" y="701.17" font-size="5.2" text-anchor="middle" font-weight="bold" fill="#000" textLength="13.8" lengthAdjust="spacingAndGlyphs" style="">28.51</text>
<line x1="56.90" y1="708.50" x2="41.50" y2="708.50" stroke="#000" stroke-width="0.9" />
<polygon points="39.00,708.50 42.20,706.80 42.20,710.20" fill="#000"/>
<text x="35.70" y="749.97" font-size="5.2" text-anchor="middle" font-weight="bold" fill="#000"  style="">D4</text>
<text x="55.40" y="749.97" font-size="5.2" text-anchor="middle" font-weight="bold" fill="#000"  style="">D1</text>
<text x="26.30" y="757.76" font-size="4.6" font-weight="bold" text-anchor="middle">10<tspan font-size="2.99" dy="-1.84">1</tspan></text>
<text x="42.20" y="757.76" font-size="4.6" font-weight="bold" text-anchor="middle">10<tspan font-size="2.99" dy="-1.84">2</tspan></text>
<text x="59.30" y="757.76" font-size="4.6" font-weight="bold" text-anchor="middle">10<tspan font-size="2.99" dy="-1.84">3</tspan></text>
<text x="75.30" y="757.76" font-size="4.6" font-weight="bold" text-anchor="middle">10<tspan font-size="2.99" dy="-1.84">4</tspan></text>
<path d="M99.60,752.10 L99.60,751.80 L101.80,747.90 L104.00,739.10 L106.20,726.00 L107.70,716.10 L109.50,710.70 L110.60,707.40 L112.10,703.00 L113.40,705.20 L115.00,710.70 L116.50,717.20 L118.20,728.20 L120.00,741.30 L121.50,750.10 L122.60,751.80 L122.60,752.10 Z" fill="#3c3c3c" stroke="none" stroke-width="0" stroke-linejoin="round" fill-opacity="0.52"/>
<path d="M121.50,752.10 L121.50,751.80 L123.10,745.70 L124.40,730.40 L125.50,715.00 L126.60,709.60 L127.70,710.70 L128.70,709.60 L130.30,712.80 L131.40,720.50 L132.50,734.70 L133.60,745.70 L135.30,751.20 L136.90,751.80 L136.90,752.10 Z" fill="#3c3c3c" stroke="none" stroke-width="0" stroke-linejoin="round" fill-opacity="0.52"/>
<path d="M99.60,752.10 L99.60,751.80 L101.80,747.90 L104.00,739.10 L106.20,726.00 L107.70,716.10 L109.50,710.70 L110.60,707.40 L112.10,703.00 L113.40,705.20 L115.00,710.70 L116.50,717.20 L118.20,728.20 L120.00,741.30 L121.50,750.10 L122.60,751.80 L122.60,752.10 Z" fill="none" stroke="#333" stroke-width="0.5" stroke-linejoin="round" />
<path d="M121.50,752.10 L121.50,751.80 L123.10,745.70 L124.40,730.40 L125.50,715.00 L126.60,709.60 L127.70,710.70 L128.70,709.60 L130.30,712.80 L131.40,720.50 L132.50,734.70 L133.60,745.70 L135.30,751.20 L136.90,751.80 L136.90,752.10 Z" fill="none" stroke="#333" stroke-width="0.5" stroke-linejoin="round" />
<rect x="86.50" y="695.50" width="58.00" height="57.00" fill="none" stroke="#222" stroke-width="0.9" />
<text x="115.60" y="692.38" font-size="8.0" text-anchor="middle" font-weight="bold" fill="#000"  style="">SW48</text>
<text x="121.50" y="701.17" font-size="5.2" text-anchor="middle" font-weight="bold" fill="#000" textLength="11.0" lengthAdjust="spacingAndGlyphs" style="">9.76</text>
<line x1="129.20" y1="705.80" x2="117.50" y2="705.80" stroke="#000" stroke-width="0.9" />
<polygon points="115.00,705.80 118.20,704.10 118.20,707.50" fill="#000"/>
<text x="111.70" y="749.97" font-size="5.2" text-anchor="middle" font-weight="bold" fill="#000"  style="">D4</text>
<text x="128.70" y="749.97" font-size="5.2" text-anchor="middle" font-weight="bold" fill="#000"  style="">D1</text>
<text x="88.90" y="757.76" font-size="4.6" font-weight="bold" text-anchor="middle">10<tspan font-size="2.99" dy="-1.84">1</tspan></text>
<text x="104.70" y="757.76" font-size="4.6" font-weight="bold" text-anchor="middle">10<tspan font-size="2.99" dy="-1.84">2</tspan></text>
<text x="121.90" y="757.76" font-size="4.6" font-weight="bold" text-anchor="middle">10<tspan font-size="2.99" dy="-1.84">3</tspan></text>
<text x="137.90" y="757.76" font-size="4.6" font-weight="bold" text-anchor="middle">10<tspan font-size="2.99" dy="-1.84">4</tspan></text>
<path d="M167.50,752.10 L167.50,752.00 L169.50,747.50 L171.40,738.70 L173.00,727.00 L174.00,715.20 L175.00,709.30 L176.30,708.40 L177.70,709.30 L178.90,715.20 L180.20,725.00 L182.20,733.80 L184.10,739.70 L187.10,745.50 L190.00,749.40 L192.90,751.40 L194.90,752.00 L194.90,752.10 Z" fill="#3c3c3c" stroke="none" stroke-width="0" stroke-linejoin="round" fill-opacity="0.52"/>
<path d="M193.30,752.10 L193.30,752.00 L194.30,746.50 L195.30,730.90 L196.10,715.20 L196.90,705.40 L197.80,703.50 L198.80,707.40 L199.60,717.20 L200.40,732.80 L201.40,746.50 L202.70,752.00 L202.70,752.10 Z" fill="#3c3c3c" stroke="none" stroke-width="0" stroke-linejoin="round" fill-opacity="0.52"/>
<path d="M167.50,752.10 L167.50,752.00 L169.50,747.50 L171.40,738.70 L173.00,727.00 L174.00,715.20 L175.00,709.30 L176.30,708.40 L177.70,709.30 L178.90,715.20 L180.20,725.00 L182.20,733.80 L184.10,739.70 L187.10,745.50 L190.00,749.40 L192.90,751.40 L194.90,752.00 L194.90,752.10 Z" fill="none" stroke="#333" stroke-width="0.5" stroke-linejoin="round" />
<path d="M193.30,752.10 L193.30,752.00 L194.30,746.50 L195.30,730.90 L196.10,715.20 L196.90,705.40 L197.80,703.50 L198.80,707.40 L199.60,717.20 L200.40,732.80 L201.40,746.50 L202.70,752.00 L202.70,752.10 Z" fill="none" stroke="#333" stroke-width="0.5" stroke-linejoin="round" />
<rect x="149.50" y="695.50" width="57.00" height="57.00" fill="none" stroke="#222" stroke-width="0.9" />
<text x="177.90" y="692.38" font-size="8.0" text-anchor="middle" font-weight="bold" fill="#000"  style="">COLO-320</text>
<text x="187.10" y="701.07" font-size="5.2" text-anchor="middle" font-weight="bold" fill="#000" textLength="13.8" lengthAdjust="spacingAndGlyphs" style="">15.79</text>
<line x1="194.90" y1="705.40" x2="180.80" y2="705.40" stroke="#000" stroke-width="0.9" />
<polygon points="178.30,705.40 181.50,703.70 181.50,707.10" fill="#000"/>
<text x="179.30" y="749.17" font-size="5.2" text-anchor="middle" font-weight="bold" fill="#000"  style="">D4</text>
<text x="197.30" y="749.17" font-size="5.2" text-anchor="middle" font-weight="bold" fill="#000"  style="">D1</text>
<text x="150.90" y="757.76" font-size="4.6" font-weight="bold" text-anchor="middle">10<tspan font-size="2.99" dy="-1.84">1</tspan></text>
<text x="166.70" y="757.76" font-size="4.6" font-weight="bold" text-anchor="middle">10<tspan font-size="2.99" dy="-1.84">2</tspan></text>
<text x="184.30" y="757.76" font-size="4.6" font-weight="bold" text-anchor="middle">10<tspan font-size="2.99" dy="-1.84">3</tspan></text>
<text x="199.80" y="757.76" font-size="4.6" font-weight="bold" text-anchor="middle">10<tspan font-size="2.99" dy="-1.84">4</tspan></text>
<path d="M221.30,752.10 L221.30,752.00 L223.30,747.50 L225.20,738.70 L227.20,725.00 L228.60,711.30 L229.70,703.50 L231.10,700.50 L232.10,699.60 L233.00,704.50 L234.40,713.30 L236.00,726.90 L237.90,738.70 L240.30,747.50 L242.80,752.00 L242.80,752.10 Z" fill="#3c3c3c" stroke="none" stroke-width="0" stroke-linejoin="round" fill-opacity="0.52"/>
<path d="M251.60,752.10 L251.60,752.00 L253.20,747.50 L254.60,738.70 L255.90,726.90 L256.90,718.10 L257.90,715.20 L259.10,715.20 L259.90,719.10 L261.00,728.90 L262.20,740.60 L263.40,748.50 L264.90,752.00 L264.90,752.10 Z" fill="#3c3c3c" stroke="none" stroke-width="0" stroke-linejoin="round" fill-opacity="0.52"/>
<path d="M221.30,752.10 L221.30,752.00 L223.30,747.50 L225.20,738.70 L227.20,725.00 L228.60,711.30 L229.70,703.50 L231.10,700.50 L232.10,699.60 L233.00,704.50 L234.40,713.30 L236.00,726.90 L237.90,738.70 L240.30,747.50 L242.80,752.00 L242.80,752.10 Z" fill="none" stroke="#333" stroke-width="0.5" stroke-linejoin="round" />
<path d="M251.60,752.10 L251.60,752.00 L253.20,747.50 L254.60,738.70 L255.90,726.90 L256.90,718.10 L257.90,715.20 L259.10,715.20 L259.90,719.10 L261.00,728.90 L262.20,740.60 L263.40,748.50 L264.90,752.00 L264.90,752.10 Z" fill="none" stroke="#333" stroke-width="0.5" stroke-linejoin="round" />
<rect x="211.50" y="695.50" width="58.00" height="57.00" fill="none" stroke="#222" stroke-width="0.9" />
<text x="240.20" y="692.38" font-size="8.0" text-anchor="middle" font-weight="bold" fill="#000"  style="">HCT-15</text>
<text x="247.30" y="701.07" font-size="5.2" text-anchor="middle" font-weight="bold" fill="#000" textLength="13.8" lengthAdjust="spacingAndGlyphs" style="">39.52</text>
<line x1="257.90" y1="705.40" x2="238.90" y2="705.40" stroke="#000" stroke-width="0.9" />
<polygon points="236.40,705.40 239.60,703.70 239.60,707.10" fill="#000"/>
<text x="232.10" y="749.17" font-size="5.2" text-anchor="middle" font-weight="bold" fill="#000"  style="">D4</text>
<text x="257.50" y="749.17" font-size="5.2" text-anchor="middle" font-weight="bold" fill="#000"  style="">D1</text>
<text x="213.60" y="757.76" font-size="4.6" font-weight="bold" text-anchor="middle">10<tspan font-size="2.99" dy="-1.84">1</tspan></text>
<text x="229.40" y="757.76" font-size="4.6" font-weight="bold" text-anchor="middle">10<tspan font-size="2.99" dy="-1.84">2</tspan></text>
<text x="246.10" y="757.76" font-size="4.6" font-weight="bold" text-anchor="middle">10<tspan font-size="2.99" dy="-1.84">3</tspan></text>
<text x="261.70" y="757.76" font-size="4.6" font-weight="bold" text-anchor="middle">10<tspan font-size="2.99" dy="-1.84">4</tspan></text>
<line x1="17.50" y1="624.00" x2="17.50" y2="762.70" stroke="#000" stroke-width="1.3" />
<polygon points="17.6,617.5 15.3,624.5 19.9,624.5" fill="#000"/>
<line x1="17.00" y1="762.50" x2="262.00" y2="762.50" stroke="#000" stroke-width="1.3" />
<polygon points="269.0,762.3 261.5,760 261.5,764.6" fill="#000"/>
<text x="0" y="0" font-size="7.6" font-weight="bold" text-anchor="middle" transform="translate(9.0 693.5) rotate(-90)">Number</text>
<text x="117.10" y="772.94" font-size="7.6" text-anchor="start" font-weight="bold" fill="#000" textLength="60" lengthAdjust="spacingAndGlyphs" style="">CellTrace Violet</text>
<text x="337.40" y="623.18" font-size="10.5" text-anchor="start" font-weight="bold" fill="#000" textLength="62.4" lengthAdjust="spacingAndGlyphs" style="">Proliferation</text>
<line x1="306.50" y1="637.30" x2="306.50" y2="727.60" stroke="#000" stroke-width="1.4" />
<line x1="305.90" y1="727.50" x2="442.00" y2="727.50" stroke="#000" stroke-width="1.4" />
<line x1="303.40" y1="727.10" x2="306.40" y2="727.10" stroke="#000" stroke-width="0.9" />
<text x="302.20" y="729.44" font-size="6.5" text-anchor="end" font-weight="bold" fill="#000"  style="">0</text>
<line x1="303.40" y1="712.20" x2="306.40" y2="712.20" stroke="#000" stroke-width="0.9" />
<text x="302.20" y="714.54" font-size="6.5" text-anchor="end" font-weight="bold" fill="#000"  style="">10</text>
<line x1="303.40" y1="697.30" x2="306.40" y2="697.30" stroke="#000" stroke-width="0.9" />
<text x="302.20" y="699.64" font-size="6.5" text-anchor="end" font-weight="bold" fill="#000"  style="">20</text>
<line x1="303.40" y1="682.40" x2="306.40" y2="682.40" stroke="#000" stroke-width="0.9" />
<text x="302.20" y="684.74" font-size="6.5" text-anchor="end" font-weight="bold" fill="#000"  style="">30</text>
<line x1="303.40" y1="667.50" x2="306.40" y2="667.50" stroke="#000" stroke-width="0.9" />
<text x="302.20" y="669.84" font-size="6.5" text-anchor="end" font-weight="bold" fill="#000"  style="">40</text>
<line x1="303.40" y1="652.60" x2="306.40" y2="652.60" stroke="#000" stroke-width="0.9" />
<text x="302.20" y="654.94" font-size="6.5" text-anchor="end" font-weight="bold" fill="#000"  style="">50</text>
<line x1="303.40" y1="637.70" x2="306.40" y2="637.70" stroke="#000" stroke-width="0.9" />
<text x="302.20" y="640.04" font-size="6.5" text-anchor="end" font-weight="bold" fill="#000"  style="">60</text>
<text x="0" y="0" font-size="8.0" font-weight="bold" text-anchor="middle" transform="translate(285.2 682.8) rotate(-90)" textLength="77.6" lengthAdjust="spacingAndGlyphs">Proliferation (D1/D4)</text>
<rect x="312.50" y="712.50" width="12.00" height="15.00" fill="#a3a3a8" stroke="#111" stroke-width="0.9" />
<line x1="318.40" y1="710.50" x2="318.40" y2="713.50" stroke="#000" stroke-width="0.9" />
<line x1="315.90" y1="710.50" x2="320.90" y2="710.50" stroke="#000" stroke-width="0.9" />
<circle cx="318.40" cy="709.60" r="1.90" fill="#000" />
<circle cx="315.80" cy="712.30" r="1.90" fill="#000" />
<circle cx="321.00" cy="712.10" r="1.90" fill="#000" />
<line x1="318.40" y1="727.10" x2="318.40" y2="729.50" stroke="#000" stroke-width="0.9" />
<text x="320.80" y="737.30" font-size="6.6" text-anchor="end" font-weight="bold" transform="rotate(-45 320.80 737.30)" >SW480</text>
<rect x="328.50" y="717.50" width="12.00" height="10.00" fill="#a3a3a8" stroke="#111" stroke-width="0.9" />
<line x1="334.30" y1="716.80" x2="334.30" y2="718.20" stroke="#000" stroke-width="0.9" />
<line x1="331.80" y1="716.80" x2="336.80" y2="716.80" stroke="#000" stroke-width="0.9" />
<circle cx="331.50" cy="717.50" r="1.90" fill="#000" />
<circle cx="334.30" cy="717.30" r="1.90" fill="#000" />
<circle cx="337.10" cy="717.50" r="1.90" fill="#000" />
<line x1="334.30" y1="727.10" x2="334.30" y2="729.50" stroke="#000" stroke-width="0.9" />
<text x="336.70" y="737.30" font-size="6.6" text-anchor="end" font-weight="bold" transform="rotate(-45 336.70 737.30)" >SW1417</text>
<rect x="344.50" y="721.50" width="11.00" height="6.00" fill="#a3a3a8" stroke="#111" stroke-width="0.9" />
<line x1="350.10" y1="720.50" x2="350.10" y2="721.50" stroke="#000" stroke-width="0.9" />
<line x1="347.60" y1="720.50" x2="352.60" y2="720.50" stroke="#000" stroke-width="0.9" />
<circle cx="346.70" cy="721.20" r="1.90" fill="#000" />
<circle cx="350.10" cy="721.20" r="1.90" fill="#000" />
<circle cx="353.50" cy="721.20" r="1.90" fill="#000" />
<line x1="350.10" y1="727.10" x2="350.10" y2="729.50" stroke="#000" stroke-width="0.9" />
<text x="352.50" y="737.30" font-size="6.6" text-anchor="end" font-weight="bold" transform="rotate(-45 352.50 737.30)" >LS123</text>
<rect x="360.50" y="717.50" width="11.00" height="10.00" fill="#a3a3a8" stroke="#111" stroke-width="0.9" />
<line x1="365.80" y1="714.60" x2="365.80" y2="719.60" stroke="#000" stroke-width="0.9" />
<line x1="363.30" y1="714.60" x2="368.30" y2="714.60" stroke="#000" stroke-width="0.9" />
<circle cx="365.80" cy="714.40" r="1.90" fill="#000" />
<circle cx="363.20" cy="718.10" r="1.90" fill="#000" />
<circle cx="368.10" cy="718.10" r="1.90" fill="#000" />
<line x1="365.80" y1="727.10" x2="365.80" y2="729.50" stroke="#000" stroke-width="0.9" />
<text x="368.20" y="737.30" font-size="6.6" text-anchor="end" font-weight="bold" transform="rotate(-45 368.20 737.30)" >SW403</text>
<rect x="375.50" y="696.50" width="12.00" height="31.00" fill="#a3a3a8" stroke="#111" stroke-width="0.9" />
<line x1="381.60" y1="695.00" x2="381.60" y2="698.00" stroke="#000" stroke-width="0.9" />
<line x1="379.10" y1="695.00" x2="384.10" y2="695.00" stroke="#000" stroke-width="0.9" />
<circle cx="381.60" cy="693.60" r="1.90" fill="#000" />
<circle cx="381.60" cy="695.80" r="1.90" fill="#000" />
<circle cx="381.60" cy="700.10" r="1.90" fill="#000" />
<line x1="381.60" y1="727.10" x2="381.60" y2="729.50" stroke="#000" stroke-width="0.9" />
<text x="384.00" y="737.30" font-size="6.6" text-anchor="end" font-weight="bold" transform="rotate(-45 384.00 737.30)" >SW620</text>
<rect x="391.50" y="707.50" width="12.00" height="20.00" fill="#a3a3a8" stroke="#111" stroke-width="0.9" />
<line x1="397.50" y1="704.40" x2="397.50" y2="710.00" stroke="#000" stroke-width="0.9" />
<line x1="395.00" y1="704.40" x2="400.00" y2="704.40" stroke="#000" stroke-width="0.9" />
<circle cx="397.00" cy="701.20" r="1.90" fill="#000" />
<circle cx="395.20" cy="710.60" r="1.90" fill="#000" />
<circle cx="399.60" cy="708.80" r="1.90" fill="#000" />
<line x1="397.50" y1="727.10" x2="397.50" y2="729.50" stroke="#000" stroke-width="0.9" />
<text x="399.90" y="737.30" font-size="6.6" text-anchor="end" font-weight="bold" transform="rotate(-45 399.90 737.30)" >SW48</text>
<rect x="407.50" y="699.50" width="11.00" height="28.00" fill="#ff0000" stroke="#111" stroke-width="0.9" />
<line x1="413.00" y1="695.30" x2="413.00" y2="703.50" stroke="#000" stroke-width="0.9" />
<line x1="410.50" y1="695.30" x2="415.50" y2="695.30" stroke="#000" stroke-width="0.9" />
<circle cx="412.80" cy="692.40" r="1.90" fill="#000" />
<circle cx="412.80" cy="698.30" r="1.90" fill="#000" />
<circle cx="412.80" cy="704.40" r="1.90" fill="#000" />
<line x1="413.00" y1="727.10" x2="413.00" y2="729.50" stroke="#000" stroke-width="0.9" />
<text x="415.40" y="737.30" font-size="6.6" text-anchor="end" font-weight="bold" transform="rotate(-45 415.40 737.30)" >COLO-320</text>
<rect x="423.50" y="660.50" width="11.00" height="67.00" fill="#ff0000" stroke="#111" stroke-width="0.9" />
<line x1="428.80" y1="651.90" x2="428.80" y2="669.50" stroke="#000" stroke-width="0.9" />
<line x1="426.30" y1="651.90" x2="431.30" y2="651.90" stroke="#000" stroke-width="0.9" />
<circle cx="428.70" cy="644.20" r="1.90" fill="#000" />
<circle cx="428.70" cy="665.50" r="1.90" fill="#000" />
<circle cx="428.70" cy="670.50" r="1.90" fill="#000" />
<line x1="428.80" y1="727.10" x2="428.80" y2="729.50" stroke="#000" stroke-width="0.9" />
<text x="431.20" y="737.30" font-size="6.6" text-anchor="end" font-weight="bold" transform="rotate(-45 431.20 737.30)" >HCT-15</text>
<text x="460.40" y="604.80" font-size="16" text-anchor="start" font-weight="bold" fill="#000"  style="">H</text>
<text x="567.50" y="623.24" font-size="10.4" text-anchor="middle" font-weight="bold" fill="#000" textLength="115.8" lengthAdjust="spacingAndGlyphs" style="">Mitochondrial biomass</text>
<text x="567.00" y="635.74" font-size="10.4" text-anchor="middle" font-weight="bold" fill="#000" textLength="77" lengthAdjust="spacingAndGlyphs" style="">vs proliferation</text>
<line x1="496.50" y1="667.00" x2="496.50" y2="727.60" stroke="#000" stroke-width="1.4" />
<line x1="495.90" y1="727.50" x2="655.30" y2="727.50" stroke="#000" stroke-width="1.4" />
<line x1="493.40" y1="727.10" x2="496.40" y2="727.10" stroke="#000" stroke-width="0.9" />
<text x="492.10" y="729.55" font-size="6.8" text-anchor="end" font-weight="bold" fill="#000" letter-spacing="0.3" style="">0.0</text>
<line x1="493.40" y1="715.18" x2="496.40" y2="715.18" stroke="#000" stroke-width="0.9" />
<text x="492.10" y="717.62" font-size="6.8" text-anchor="end" font-weight="bold" fill="#000" letter-spacing="0.3" style="">0.5</text>
<line x1="493.40" y1="703.25" x2="496.40" y2="703.25" stroke="#000" stroke-width="0.9" />
<text x="492.10" y="705.70" font-size="6.8" text-anchor="end" font-weight="bold" fill="#000" letter-spacing="0.3" style="">1.0</text>
<line x1="493.40" y1="691.33" x2="496.40" y2="691.33" stroke="#000" stroke-width="0.9" />
<text x="492.10" y="693.77" font-size="6.8" text-anchor="end" font-weight="bold" fill="#000" letter-spacing="0.3" style="">1.5</text>
<line x1="493.40" y1="679.40" x2="496.40" y2="679.40" stroke="#000" stroke-width="0.9" />
<text x="492.10" y="681.85" font-size="6.8" text-anchor="end" font-weight="bold" fill="#000" letter-spacing="0.3" style="">2.0</text>
<line x1="493.40" y1="667.48" x2="496.40" y2="667.48" stroke="#000" stroke-width="0.9" />
<text x="492.10" y="669.92" font-size="6.8" text-anchor="end" font-weight="bold" fill="#000" letter-spacing="0.3" style="">2.5</text>
<line x1="496.40" y1="727.10" x2="496.40" y2="729.70" stroke="#000" stroke-width="0.9" />
<text x="496.40" y="739.15" font-size="6.8" text-anchor="middle" font-weight="bold" fill="#000" letter-spacing="0.3" style="">0</text>
<line x1="528.08" y1="727.10" x2="528.08" y2="729.70" stroke="#000" stroke-width="0.9" />
<text x="528.08" y="739.15" font-size="6.8" text-anchor="middle" font-weight="bold" fill="#000" letter-spacing="0.3" style="">10</text>
<line x1="559.76" y1="727.10" x2="559.76" y2="729.70" stroke="#000" stroke-width="0.9" />
<text x="559.76" y="739.15" font-size="6.8" text-anchor="middle" font-weight="bold" fill="#000" letter-spacing="0.3" style="">20</text>
<line x1="591.44" y1="727.10" x2="591.44" y2="729.70" stroke="#000" stroke-width="0.9" />
<text x="591.44" y="739.15" font-size="6.8" text-anchor="middle" font-weight="bold" fill="#000" letter-spacing="0.3" style="">30</text>
<line x1="623.12" y1="727.10" x2="623.12" y2="729.70" stroke="#000" stroke-width="0.9" />
<text x="623.12" y="739.15" font-size="6.8" text-anchor="middle" font-weight="bold" fill="#000" letter-spacing="0.3" style="">40</text>
<line x1="654.80" y1="727.10" x2="654.80" y2="729.70" stroke="#000" stroke-width="0.9" />
<text x="654.80" y="739.15" font-size="6.8" text-anchor="middle" font-weight="bold" fill="#000" letter-spacing="0.3" style="">50</text>
<text x="578.30" y="748.15" font-size="8.2" text-anchor="middle" font-weight="bold" fill="#000" textLength="46.8" lengthAdjust="spacingAndGlyphs" style="">Proliferation</text>
<text x="0" y="0" font-size="7.8" font-weight="bold" text-anchor="middle" transform="translate(473.8 699.5) rotate(-90)" textLength="85" lengthAdjust="spacingAndGlyphs">Mitochondrial biomass</text>
<text x="570.80" y="674.78" font-size="6.6" text-anchor="middle" font-weight="bold" fill="#000" textLength="53.5" lengthAdjust="spacingAndGlyphs" style="">Pearson r = -0.76</text>
<line x1="499.80" y1="692.40" x2="637.00" y2="727.00" stroke="#000" stroke-width="0.9" />
<polygon points="509.60,678.50 512.10,682.88 507.10,682.88" fill="#000"/>
<circle cx="518.70" cy="698.70" r="2.09" fill="#000" />
<rect x="514.86" y="704.86" width="4.08" height="4.08" fill="#000" stroke="none" stroke-width="1" />
<circle cx="529.70" cy="697.80" r="2.28" fill="#000" />
<polygon points="539.40,696.30 541.90,691.92 536.90,691.92" fill="#000"/>
<circle cx="562.10" cy="706.10" r="2.09" fill="#000" />
<polygon points="557.60,716.78 558.34,718.98 560.66,719.00 558.80,720.39 559.49,722.61 557.60,721.26 555.71,722.61 556.40,720.39 554.54,719.00 556.86,718.98" fill="#000"/>
<path d="M638.60,726.20 L636.20,723.44 A1.25,1.25 0 0 1 638.60,722.36 A1.25,1.25 0 0 1 641.00,723.44 Z" fill="#000"/>
<circle cx="646.40" cy="640.90" r="2.52" fill="#000" />
<text x="651.80" y="643.31" font-size="6.7" text-anchor="start" font-weight="bold" fill="#000"  style="">SW480</text>
<rect x="644.11" y="648.46" width="4.59" height="4.59" fill="#000" stroke="none" stroke-width="1" />
<text x="651.80" y="653.16" font-size="6.7" text-anchor="start" font-weight="bold" fill="#000"  style="">SW1417</text>
<polygon points="646.40,657.95 649.05,662.59 643.75,662.59" fill="#000"/>
<text x="651.80" y="663.01" font-size="6.7" text-anchor="start" font-weight="bold" fill="#000"  style="">LS123</text>
<polygon points="646.40,667.65 649.06,670.45 646.40,673.25 643.74,670.45" fill="#000"/>
<text x="651.80" y="672.86" font-size="6.7" text-anchor="start" font-weight="bold" fill="#000"  style="">SW403</text>
<circle cx="646.40" cy="680.30" r="2.52" fill="#000" />
<text x="651.80" y="682.71" font-size="6.7" text-anchor="start" font-weight="bold" fill="#000"  style="">SW620</text>
<polygon points="646.40,692.80 649.05,688.16 643.75,688.16" fill="#000"/>
<text x="651.80" y="692.56" font-size="6.7" text-anchor="start" font-weight="bold" fill="#000"  style="">SW48</text>
<polygon points="646.40,696.38 647.23,698.85 649.85,698.88 647.75,700.44 648.53,702.93 646.40,701.42 644.27,702.93 645.05,700.44 642.95,698.88 645.57,698.85" fill="#000"/>
<text x="651.80" y="702.41" font-size="6.7" text-anchor="start" font-weight="bold" fill="#000"  style="">COLO-320</text>
<path d="M646.40,712.50 L643.75,709.45 A1.38,1.38 0 0 1 646.40,708.26 A1.38,1.38 0 0 1 649.05,709.45 Z" fill="#000"/>
<text x="651.80" y="712.26" font-size="6.7" text-anchor="start" font-weight="bold" fill="#000"  style="">HCT-15</text>
</svg></body></html>
